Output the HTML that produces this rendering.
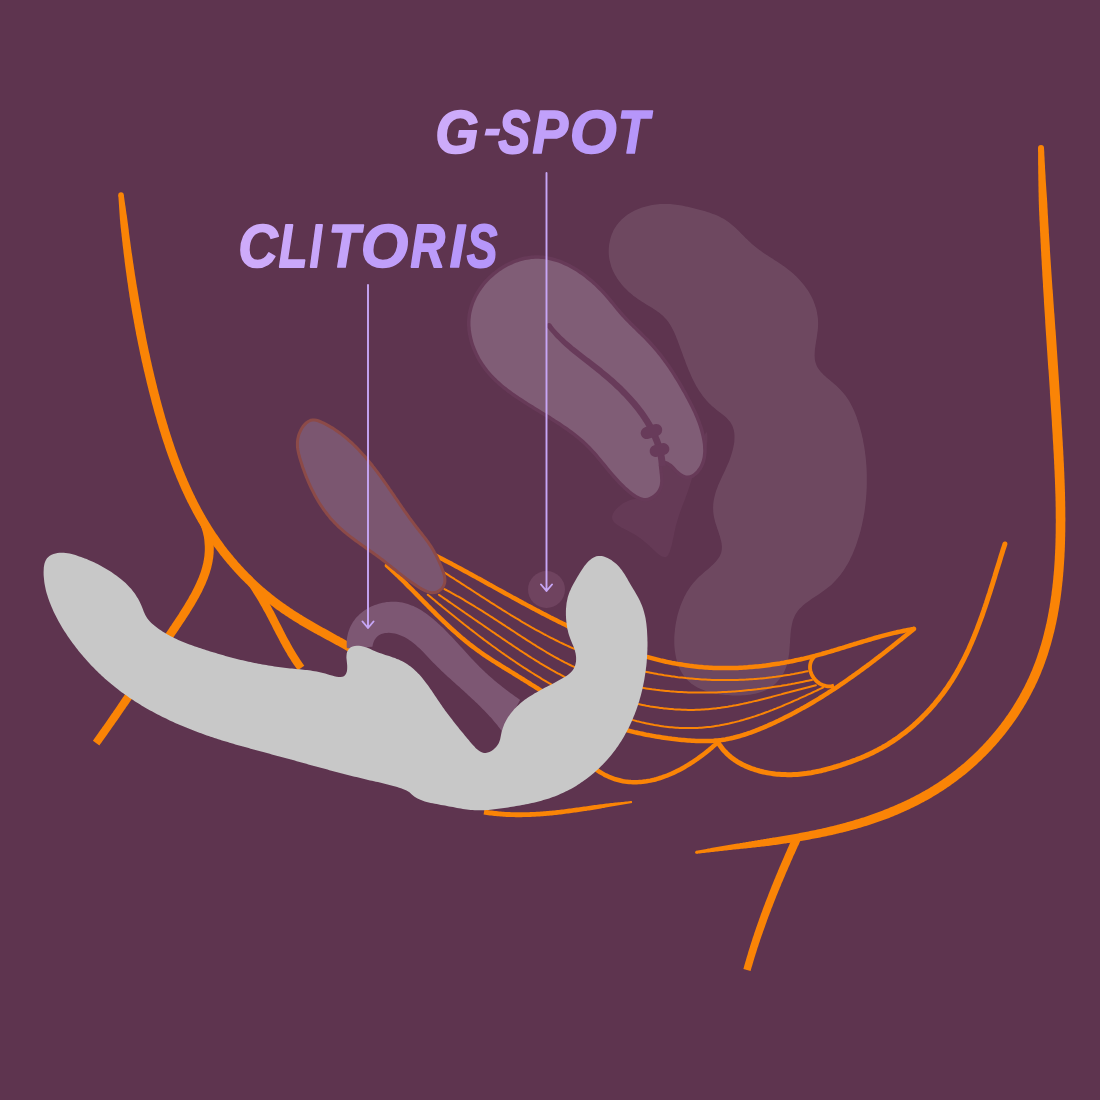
<!DOCTYPE html>
<html><head><meta charset="utf-8"><style>
html,body{margin:0;padding:0;background:#5e344f;width:1100px;height:1100px;overflow:hidden;font-family:"Liberation Sans",sans-serif;}
svg{display:block}
</style></head><body>
<svg width="1100" height="1100" viewBox="0 0 1100 1100">
<rect width="1100" height="1100" fill="#5e344f"/>
<path d="M612 516.9 612.3 515.5 612.8 514 613.7 512.4 614.7 510.8 616 509.3 617.5 507.8 619.1 506.3 620.9 504.9 622.7 503.6 624.7 502.4 626.8 501.4 628.8 500.5 630.9 499.8 633 499.3 635.1 499 637.2 498.7 639.2 498.5 641.2 498.3 643.2 498.1 645.1 497.8 647 497.3 648.8 496.7 650.6 496 652.2 495 653.8 493.8 655.2 492.5 656.5 491 657.6 489.3 658.6 487.5 659.3 485.5 659.9 483.3 660.2 481 660.4 478.6 660.5 476.2 660.6 473.9 660.6 471.6 660.7 469.4 660.9 467.4 661.1 465.7 661.6 464.2 662.2 463 663.1 462.2 664.3 461.9 665.7 461.9 667.3 462.3 669 462.9 670.7 463.8 672.5 465 674.2 466.3 676 467.7 677.7 469.1 679.4 470.6 681.1 472 682.8 473.2 684.5 474.3 686.2 475.2 687.9 475.7 689.6 476 691.3 475.9 692.9 475.6 694.4 474.9 695.9 474 697.3 472.8 698.6 471.3 699.8 469.5 700.9 467.6 701.9 465.5 702.8 463.2 703.6 460.8 704.4 458.3 705 455.8 705.6 453.2 706.1 450.7 706.5 448.2 706.8 445.7 707.1 443.4 707.3 441.2 707.4 439.2 707.4 437.3 707.4 435.7 707.3 434.4 707.2 433.3 707 432.6 706.7 432.2 706.4 432.2 706 432.6 705.6 433.2 705.1 434.1 704.6 435.4 704 436.8 703.5 438.5 702.8 440.4 702.2 442.5 701.5 444.7 700.9 447.1 700.2 449.5 699.5 452.1 698.7 454.7 698 457.3 697.3 460 696.6 462.6 695.9 465.2 695.2 467.8 694.5 470.2 693.8 472.6 693.1 474.9 692.5 477 691.8 479.1 691.2 481.2 690.6 483.1 690 485 689.4 486.8 688.8 488.6 688.2 490.4 687.6 492.1 687 493.8 686.4 495.4 685.8 497.1 685.2 498.7 684.5 500.4 683.9 502 683.3 503.7 682.6 505.3 682 507 681.4 508.8 680.7 510.5 680.1 512.3 679.4 514.1 678.8 516 678.2 517.9 677.6 519.9 677 521.9 676.4 524 675.8 526.2 675.3 528.4 674.8 530.7 674.3 533 673.8 535.5 673.3 537.9 672.8 540.3 672.3 542.6 671.8 544.9 671.2 547.1 670.6 549.1 670 551 669.4 552.7 668.6 554.2 667.9 555.4 667 556.3 666.1 556.9 665.1 557.2 664 557.1 662.8 556.8 661.5 556.2 660.2 555.4 658.8 554.4 657.3 553.2 655.7 551.8 654.1 550.3 652.4 548.7 650.6 547 648.7 545.3 646.8 543.6 644.9 541.9 642.8 540.2 640.7 538.6 638.5 537.1 636.3 535.6 634.1 534.3 631.8 533 629.6 531.8 627.4 530.6 625.3 529.5 623.3 528.4 621.3 527.4 619.5 526.3 617.8 525.2 616.3 524.2 615 523.1 613.9 522 613.1 520.8 612.4 519.6 612.1 518.3 612 516.9Z" fill="#653a56"/>
<path d="M662.1 204 660.1 204.1 658.1 204.2 656 204.4 654 204.7 652 205 650 205.4 648 205.9 646 206.4 644.1 206.9 642.1 207.5 640.2 208.2 638.3 209 636.5 209.8 634.7 210.6 632.9 211.5 631.1 212.5 629.4 213.5 627.7 214.6 626.1 215.8 624.6 217 623.1 218.2 621.6 219.6 620.3 221 618.9 222.4 617.7 223.9 616.5 225.5 615.4 227.2 614.4 228.8 613.4 230.6 612.6 232.4 611.8 234.3 611.1 236.2 610.5 238.2 610 240.2 609.6 242.2 609.2 244.2 609 246.3 608.8 248.3 608.7 250.4 608.7 252.4 608.8 254.4 609 256.4 609.3 258.4 609.6 260.3 610.1 262.3 610.6 264.1 611.1 266 611.8 267.9 612.5 269.7 613.3 271.4 614.2 273.2 615.1 274.9 616.1 276.6 617.1 278.3 618.3 280 619.4 281.6 620.6 283.1 621.9 284.7 623.2 286.2 624.6 287.7 626 289.1 627.4 290.6 628.9 291.9 630.5 293.3 632 294.6 633.6 295.9 635.2 297.1 636.9 298.3 638.6 299.5 640.3 300.6 642 301.7 643.8 302.8 645.5 303.9 647.2 304.9 649 306 650.7 307.1 652.4 308.1 654.1 309.2 655.8 310.3 657.4 311.4 659 312.6 660.5 313.8 662 315 663.4 316.3 664.7 317.7 666 319.1 667.2 320.6 668.4 322.1 669.5 323.7 670.5 325.3 671.5 327 672.4 328.8 673.3 330.5 674.2 332.3 675 334.2 675.8 336 676.5 337.9 677.3 339.8 678 341.7 678.7 343.6 679.4 345.5 680.1 347.4 680.8 349.3 681.5 351.2 682.2 353.1 682.9 355 683.6 356.9 684.3 358.8 685 360.6 685.7 362.5 686.4 364.4 687.1 366.3 687.9 368.1 688.6 370 689.4 371.8 690.2 373.6 691 375.4 691.8 377.2 692.6 379 693.5 380.7 694.4 382.5 695.3 384.2 696.2 385.9 697.2 387.6 698.2 389.3 699.3 390.9 700.4 392.5 701.5 394.1 702.6 395.7 703.8 397.3 705.1 398.8 706.3 400.3 707.7 401.7 709 403.2 710.5 404.6 711.9 406 713.5 407.3 715 408.6 716.7 409.9 718.3 411.2 720 412.4 721.6 413.7 723.2 415 724.8 416.3 726.2 417.6 727.6 419 728.9 420.4 730.1 421.8 731.1 423.4 732 425 732.7 426.7 733.3 428.4 733.8 430.2 734.2 432.1 734.4 433.9 734.5 435.9 734.5 437.8 734.4 439.8 734.3 441.9 734 443.9 733.6 446 733.2 448 732.7 450.1 732.1 452.2 731.5 454.3 730.9 456.3 730.1 458.4 729.4 460.4 728.6 462.4 727.7 464.4 726.9 466.3 726 468.3 725.2 470.2 724.3 472.1 723.4 473.9 722.5 475.8 721.6 477.7 720.8 479.5 719.9 481.4 719.1 483.2 718.3 485 717.6 486.9 716.9 488.7 716.2 490.6 715.6 492.5 715.1 494.4 714.6 496.3 714.2 498.2 713.8 500.1 713.5 502.1 713.3 504 713.2 506 713.1 508 713.2 509.9 713.3 511.9 713.5 513.9 713.8 515.9 714.2 518 714.7 520 715.2 522 715.8 524 716.5 526 717.1 528 717.8 530.1 718.5 532 719.1 534 719.8 536 720.3 537.9 720.8 539.9 721.3 541.7 721.6 543.6 721.8 545.5 721.9 547.3 721.8 549 721.6 550.8 721.3 552.5 720.7 554.1 720 555.7 719.1 557.3 718.1 558.8 716.9 560.3 715.7 561.8 714.3 563.2 712.8 564.7 711.3 566.1 709.8 567.5 708.2 568.9 706.6 570.2 705 571.6 703.4 573 701.8 574.4 700.3 575.8 698.8 577.1 697.4 578.5 696 580 694.7 581.4 693.5 582.8 692.3 584.3 691.1 585.8 690 587.3 688.9 588.9 687.9 590.4 686.9 592.1 686 593.7 685.1 595.4 684.2 597.1 683.4 598.9 682.6 600.7 681.8 602.5 681 604.4 680.3 606.3 679.7 608.2 679 610.2 678.4 612.2 677.8 614.3 677.3 616.3 676.8 618.4 676.4 620.5 676 622.6 675.6 624.7 675.3 626.9 675 629 674.8 631.2 674.6 633.3 674.4 635.5 674.3 637.6 674.3 639.7 674.3 641.9 674.3 644 674.4 646.1 674.6 648.2 674.8 650.2 675.1 652.3 675.4 654.3 675.8 656.3 676.2 658.3 676.7 660.2 677.2 662.1 677.8 664 678.5 665.8 679.2 667.6 680 669.3 680.9 671 681.8 672.7 682.8 674.2 683.8 675.8 684.9 677.2 686.1 678.7 687.4 680 688.7 681.3 690.1 682.5 691.5 683.7 693 684.7 694.6 685.8 696.2 686.7 697.9 687.7 699.7 688.5 701.4 689.3 703.3 690 705.1 690.7 707 691.4 709 692 711 692.5 713 693 715 693.4 717.1 693.8 719.1 694.2 721.2 694.5 723.4 694.7 725.5 694.9 727.6 695.1 729.8 695.3 731.9 695.4 734.1 695.4 736.2 695.5 738.4 695.5 740.5 695.4 742.7 695.3 744.8 695.2 746.9 695 749 694.8 751.1 694.5 753.1 694.1 755.1 693.7 757.1 693.3 759 692.7 760.9 692.1 762.8 691.5 764.6 690.7 766.4 689.9 768.1 689 769.8 688 771.4 686.9 772.9 685.7 774.4 684.5 775.8 683.2 777.2 681.8 778.5 680.3 779.7 678.8 780.9 677.2 782 675.6 783 673.9 783.9 672.2 784.8 670.4 785.6 668.5 786.3 666.7 786.9 664.7 787.4 662.8 787.9 660.8 788.3 658.8 788.6 656.8 788.9 654.8 789.2 652.7 789.4 650.7 789.5 648.6 789.7 646.5 789.8 644.5 790 642.4 790.1 640.3 790.2 638.3 790.4 636.2 790.5 634.2 790.7 632.2 790.9 630.2 791.2 628.3 791.5 626.4 791.9 624.5 792.3 622.7 792.8 620.8 793.4 619.1 794.1 617.4 794.8 615.7 795.7 614.1 796.7 612.6 797.7 611.1 798.9 609.6 800.1 608.3 801.5 606.9 802.9 605.6 804.4 604.3 805.9 603.1 807.5 601.9 809.2 600.7 810.8 599.5 812.5 598.3 814.3 597.2 816 596 817.8 594.9 819.5 593.7 821.3 592.5 823 591.3 824.7 590.1 826.4 588.8 828 587.5 829.6 586.2 831.2 584.9 832.7 583.5 834.1 582.1 835.5 580.6 836.9 579.1 838.2 577.6 839.5 576 840.7 574.4 841.9 572.8 843.1 571.2 844.2 569.5 845.3 567.8 846.3 566.1 847.3 564.4 848.3 562.7 849.3 560.9 850.2 559.1 851 557.3 851.9 555.5 852.7 553.7 853.5 551.8 854.2 549.9 855 548.1 855.7 546.2 856.4 544.3 857 542.4 857.6 540.5 858.2 538.6 858.8 536.7 859.4 534.8 859.9 532.9 860.5 531 861 529 861.4 527.1 861.9 525.2 862.3 523.2 862.7 521.3 863.1 519.3 863.5 517.4 863.8 515.4 864.2 513.5 864.5 511.5 864.8 509.6 865 507.6 865.3 505.6 865.5 503.6 865.7 501.7 865.9 499.7 866.1 497.7 866.2 495.7 866.4 493.7 866.5 491.7 866.6 489.8 866.7 487.8 866.7 485.8 866.8 483.8 866.8 481.8 866.8 479.8 866.8 477.8 866.8 475.8 866.7 473.8 866.7 471.8 866.6 469.8 866.5 467.8 866.4 465.8 866.2 463.8 866.1 461.8 865.9 459.8 865.7 457.8 865.5 455.8 865.2 453.9 865 451.9 864.7 449.9 864.4 447.9 864.1 446 863.7 444 863.3 442 863 440.1 862.6 438.1 862.1 436.2 861.7 434.3 861.2 432.3 860.7 430.4 860.2 428.5 859.6 426.6 859.1 424.7 858.5 422.8 857.9 420.9 857.2 419 856.6 417.1 855.9 415.3 855.2 413.4 854.4 411.6 853.6 409.8 852.8 408 851.9 406.2 851 404.5 850.1 402.7 849.1 401 848 399.3 846.9 397.7 845.8 396 844.5 394.4 843.3 392.9 842 391.4 840.6 389.9 839.1 388.4 837.6 387 836.1 385.6 834.5 384.2 832.9 382.8 831.3 381.5 829.7 380.1 828.1 378.8 826.5 377.5 825 376.1 823.5 374.7 822.2 373.3 820.9 371.9 819.7 370.5 818.6 369 817.6 367.4 816.8 365.9 816.1 364.2 815.5 362.5 815.1 360.8 814.8 359 814.7 357.1 814.6 355.2 814.7 353.3 814.8 351.3 814.9 349.3 815.2 347.3 815.5 345.3 815.8 343.2 816.1 341.1 816.5 339 816.8 336.9 817.1 334.8 817.4 332.7 817.7 330.6 817.9 328.6 818 326.5 818.1 324.4 818.1 322.4 818 320.3 817.9 318.3 817.6 316.3 817.3 314.4 817 312.4 816.6 310.5 816.1 308.5 815.5 306.7 814.9 304.8 814.2 302.9 813.5 301.1 812.7 299.3 811.9 297.5 811 295.8 810 294 809 292.3 808 290.6 806.9 289 805.7 287.4 804.5 285.8 803.3 284.2 802 282.7 800.7 281.2 799.4 279.7 798 278.2 796.6 276.8 795.2 275.4 793.7 274.1 792.2 272.8 790.7 271.5 789.1 270.2 787.5 269 785.9 267.8 784.3 266.6 782.7 265.5 781 264.3 779.4 263.2 777.7 262.1 776 261 774.3 259.9 772.7 258.8 771 257.8 769.3 256.7 767.6 255.6 765.9 254.5 764.3 253.4 762.6 252.2 761 251.1 759.4 249.9 757.8 248.7 756.2 247.5 754.7 246.3 753.1 245 751.6 243.7 750.2 242.3 748.7 240.9 747.3 239.6 745.8 238.2 744.4 236.7 743 235.3 741.6 233.9 740.2 232.5 738.8 231.1 737.4 229.7 735.9 228.3 734.5 227 733 225.7 731.5 224.4 730 223.2 728.5 222 726.9 220.9 725.2 219.8 723.6 218.8 721.9 217.9 720.1 217 718.3 216.1 716.5 215.3 714.7 214.6 712.8 213.9 711 213.2 709.1 212.5 707.2 211.9 705.2 211.3 703.3 210.8 701.4 210.2 699.4 209.7 697.4 209.2 695.5 208.7 693.5 208.2 691.6 207.7 689.6 207.3 687.7 206.8 685.7 206.4 683.8 206 681.8 205.6 679.9 205.3 677.9 205 676 204.7 674 204.5 672 204.3 670 204.1 668.1 204 666.1 203.9 664.1 203.9 662.1 204Z" fill="#ffffff" fill-opacity="0.10"/>
<path d="M537 258.8 538.9 258.8 540.8 258.9 542.8 259.1 544.7 259.3 546.6 259.6 548.5 260 550.5 260.4 552.4 260.9 554.3 261.4 556.2 262 558 262.6 559.9 263.3 561.8 264.1 563.6 264.9 565.4 265.7 567.3 266.6 569.1 267.5 570.9 268.5 572.7 269.5 574.4 270.6 576.2 271.6 577.9 272.8 579.6 273.9 581.3 275.1 583 276.3 584.7 277.6 586.3 278.9 587.9 280.2 589.5 281.5 591.1 282.8 592.6 284.2 594.2 285.6 595.7 287 597.1 288.4 598.6 289.9 600 291.3 601.4 292.8 602.8 294.2 604.1 295.7 605.4 297.2 606.7 298.7 608 300.2 609.2 301.7 610.4 303.2 611.6 304.6 612.8 306.1 614 307.6 615.2 309.1 616.4 310.6 617.7 312 618.9 313.5 620.2 315 621.5 316.4 622.8 317.8 624.1 319.3 625.5 320.7 626.9 322.1 628.3 323.5 629.7 324.9 631.1 326.3 632.5 327.7 634 329.1 635.4 330.5 636.9 332 638.3 333.4 639.8 334.8 641.2 336.2 642.6 337.6 644.1 339.1 645.5 340.5 646.9 342 648.3 343.5 649.7 345 651.1 346.5 652.4 348 653.7 349.5 655 351.1 656.3 352.6 657.6 354.2 658.9 355.8 660.1 357.3 661.3 358.9 662.5 360.6 663.7 362.2 664.9 363.8 666.1 365.5 667.2 367.1 668.4 368.8 669.5 370.4 670.6 372.1 671.7 373.8 672.8 375.5 673.8 377.2 674.9 378.9 675.9 380.6 677 382.3 678 384 679 385.7 680 387.4 681 389.2 681.9 390.9 682.9 392.6 683.9 394.3 684.8 396.1 685.7 397.8 686.7 399.6 687.6 401.3 688.5 403 689.4 404.8 690.3 406.5 691.2 408.3 692 410.1 692.9 411.8 693.7 413.6 694.5 415.4 695.3 417.2 696 419 696.8 420.9 697.5 422.7 698.1 424.6 698.8 426.5 699.4 428.4 700 430.4 700.5 432.4 701 434.4 701.5 436.4 701.9 438.4 702.3 440.5 702.6 442.5 702.9 444.6 703 446.7 703.1 448.7 703.2 450.7 703.1 452.8 702.9 454.7 702.7 456.7 702.3 458.6 701.8 460.5 701.2 462.3 700.5 464.1 699.6 465.9 698.7 467.5 697.5 469.1 696.3 470.7 694.9 472.1 693.3 473.4 691.6 474.5 689.8 475.3 687.9 475.6 686 475.4 684 474.8 682.1 473.8 680.3 472.5 678.6 471.1 677.1 469.7 675.8 468.2 674.5 466.8 673.2 465.4 671.6 464.1 669.9 462.9 668 461.8 666 461 664 460.6 662.1 460.6 660.5 461.1 659.5 462.2 659 463.9 658.9 465.8 659 468.1 659.3 470.3 659.5 472.6 659.8 474.8 660 476.9 660.1 479 660.2 480.9 660 482.9 659.8 484.7 659.3 486.5 658.6 488.3 657.7 490 656.5 491.7 655 493.3 653.3 494.8 651.4 496.1 649.5 497 647.6 497.7 645.7 497.9 643.9 497.9 642.1 497.5 640.3 496.9 638.5 496.1 636.8 495.2 635.1 494.1 633.5 492.9 631.9 491.7 630.3 490.4 628.7 489.1 627.2 487.8 625.7 486.4 624.3 485 622.8 483.6 621.4 482.2 620 480.8 618.7 479.3 617.3 477.8 616 476.3 614.6 474.8 613.3 473.3 612 471.8 610.7 470.2 609.5 468.7 608.2 467.2 606.9 465.6 605.7 464.1 604.4 462.5 603.1 461 601.9 459.4 600.6 457.9 599.3 456.4 598 454.8 596.7 453.3 595.4 451.8 594.1 450.4 592.7 448.9 591.4 447.5 590 446.1 588.6 444.7 587.2 443.3 585.8 441.9 584.3 440.6 582.8 439.3 581.3 438 579.8 436.7 578.3 435.5 576.7 434.2 575.2 433 573.6 431.8 572 430.6 570.4 429.4 568.8 428.3 567.2 427.1 565.5 426 563.9 424.9 562.2 423.7 560.6 422.6 558.9 421.5 557.2 420.4 555.5 419.4 553.8 418.3 552.1 417.2 550.4 416.1 548.7 415.1 547 414 545.3 413 543.6 411.9 541.9 410.9 540.1 409.8 538.4 408.8 536.7 407.7 535 406.7 533.3 405.6 531.5 404.5 529.8 403.5 528.1 402.4 526.4 401.3 524.7 400.2 523 399.1 521.4 398.1 519.7 396.9 518 395.8 516.4 394.7 514.7 393.6 513.1 392.4 511.5 391.2 509.9 390.1 508.3 388.9 506.7 387.6 505.2 386.4 503.6 385.2 502.1 383.9 500.6 382.6 499.2 381.3 497.7 379.9 496.3 378.6 494.9 377.2 493.5 375.8 492.2 374.4 490.9 372.9 489.6 371.4 488.3 369.9 487.1 368.3 485.9 366.8 484.7 365.1 483.6 363.5 482.5 361.8 481.4 360.1 480.4 358.4 479.4 356.6 478.5 354.8 477.6 352.9 476.8 351.1 476 349.2 475.2 347.3 474.5 345.4 473.8 343.4 473.2 341.5 472.7 339.5 472.2 337.5 471.8 335.5 471.4 333.5 471.1 331.5 470.8 329.5 470.7 327.5 470.5 325.5 470.5 323.5 470.5 321.5 470.6 319.5 470.8 317.5 471 315.6 471.3 313.6 471.7 311.7 472.2 309.7 472.7 307.8 473.3 305.9 473.9 304.1 474.6 302.2 475.4 300.4 476.3 298.6 477.1 296.8 478.1 295 479.1 293.3 480.2 291.6 481.3 289.9 482.5 288.3 483.7 286.7 484.9 285.1 486.2 283.5 487.6 282 489 280.6 490.4 279.1 491.9 277.7 493.4 276.4 495 275 496.6 273.8 498.2 272.5 499.8 271.3 501.5 270.2 503.2 269.1 505 268 506.7 267 508.5 266.1 510.3 265.2 512.1 264.4 514 263.6 515.8 262.8 517.7 262.2 519.6 261.5 521.5 261 523.4 260.5 525.3 260 527.3 259.7 529.2 259.4 531.1 259.1 533.1 258.9 535 258.8 537 258.8Z" fill="none" stroke="#673a58" stroke-width="7" stroke-linejoin="round"/>
<path d="M537 258.8 538.9 258.8 540.8 258.9 542.8 259.1 544.7 259.3 546.6 259.6 548.5 260 550.5 260.4 552.4 260.9 554.3 261.4 556.2 262 558 262.6 559.9 263.3 561.8 264.1 563.6 264.9 565.4 265.7 567.3 266.6 569.1 267.5 570.9 268.5 572.7 269.5 574.4 270.6 576.2 271.6 577.9 272.8 579.6 273.9 581.3 275.1 583 276.3 584.7 277.6 586.3 278.9 587.9 280.2 589.5 281.5 591.1 282.8 592.6 284.2 594.2 285.6 595.7 287 597.1 288.4 598.6 289.9 600 291.3 601.4 292.8 602.8 294.2 604.1 295.7 605.4 297.2 606.7 298.7 608 300.2 609.2 301.7 610.4 303.2 611.6 304.6 612.8 306.1 614 307.6 615.2 309.1 616.4 310.6 617.7 312 618.9 313.5 620.2 315 621.5 316.4 622.8 317.8 624.1 319.3 625.5 320.7 626.9 322.1 628.3 323.5 629.7 324.9 631.1 326.3 632.5 327.7 634 329.1 635.4 330.5 636.9 332 638.3 333.4 639.8 334.8 641.2 336.2 642.6 337.6 644.1 339.1 645.5 340.5 646.9 342 648.3 343.5 649.7 345 651.1 346.5 652.4 348 653.7 349.5 655 351.1 656.3 352.6 657.6 354.2 658.9 355.8 660.1 357.3 661.3 358.9 662.5 360.6 663.7 362.2 664.9 363.8 666.1 365.5 667.2 367.1 668.4 368.8 669.5 370.4 670.6 372.1 671.7 373.8 672.8 375.5 673.8 377.2 674.9 378.9 675.9 380.6 677 382.3 678 384 679 385.7 680 387.4 681 389.2 681.9 390.9 682.9 392.6 683.9 394.3 684.8 396.1 685.7 397.8 686.7 399.6 687.6 401.3 688.5 403 689.4 404.8 690.3 406.5 691.2 408.3 692 410.1 692.9 411.8 693.7 413.6 694.5 415.4 695.3 417.2 696 419 696.8 420.9 697.5 422.7 698.1 424.6 698.8 426.5 699.4 428.4 700 430.4 700.5 432.4 701 434.4 701.5 436.4 701.9 438.4 702.3 440.5 702.6 442.5 702.9 444.6 703 446.7 703.1 448.7 703.2 450.7 703.1 452.8 702.9 454.7 702.7 456.7 702.3 458.6 701.8 460.5 701.2 462.3 700.5 464.1 699.6 465.9 698.7 467.5 697.5 469.1 696.3 470.7 694.9 472.1 693.3 473.4 691.6 474.5 689.8 475.3 687.9 475.6 686 475.4 684 474.8 682.1 473.8 680.3 472.5 678.6 471.1 677.1 469.7 675.8 468.2 674.5 466.8 673.2 465.4 671.6 464.1 669.9 462.9 668 461.8 666 461 664 460.6 662.1 460.6 660.5 461.1 659.5 462.2 659 463.9 658.9 465.8 659 468.1 659.3 470.3 659.5 472.6 659.8 474.8 660 476.9 660.1 479 660.2 480.9 660 482.9 659.8 484.7 659.3 486.5 658.6 488.3 657.7 490 656.5 491.7 655 493.3 653.3 494.8 651.4 496.1 649.5 497 647.6 497.7 645.7 497.9 643.9 497.9 642.1 497.5 640.3 496.9 638.5 496.1 636.8 495.2 635.1 494.1 633.5 492.9 631.9 491.7 630.3 490.4 628.7 489.1 627.2 487.8 625.7 486.4 624.3 485 622.8 483.6 621.4 482.2 620 480.8 618.7 479.3 617.3 477.8 616 476.3 614.6 474.8 613.3 473.3 612 471.8 610.7 470.2 609.5 468.7 608.2 467.2 606.9 465.6 605.7 464.1 604.4 462.5 603.1 461 601.9 459.4 600.6 457.9 599.3 456.4 598 454.8 596.7 453.3 595.4 451.8 594.1 450.4 592.7 448.9 591.4 447.5 590 446.1 588.6 444.7 587.2 443.3 585.8 441.9 584.3 440.6 582.8 439.3 581.3 438 579.8 436.7 578.3 435.5 576.7 434.2 575.2 433 573.6 431.8 572 430.6 570.4 429.4 568.8 428.3 567.2 427.1 565.5 426 563.9 424.9 562.2 423.7 560.6 422.6 558.9 421.5 557.2 420.4 555.5 419.4 553.8 418.3 552.1 417.2 550.4 416.1 548.7 415.1 547 414 545.3 413 543.6 411.9 541.9 410.9 540.1 409.8 538.4 408.8 536.7 407.7 535 406.7 533.3 405.6 531.5 404.5 529.8 403.5 528.1 402.4 526.4 401.3 524.7 400.2 523 399.1 521.4 398.1 519.7 396.9 518 395.8 516.4 394.7 514.7 393.6 513.1 392.4 511.5 391.2 509.9 390.1 508.3 388.9 506.7 387.6 505.2 386.4 503.6 385.2 502.1 383.9 500.6 382.6 499.2 381.3 497.7 379.9 496.3 378.6 494.9 377.2 493.5 375.8 492.2 374.4 490.9 372.9 489.6 371.4 488.3 369.9 487.1 368.3 485.9 366.8 484.7 365.1 483.6 363.5 482.5 361.8 481.4 360.1 480.4 358.4 479.4 356.6 478.5 354.8 477.6 352.9 476.8 351.1 476 349.2 475.2 347.3 474.5 345.4 473.8 343.4 473.2 341.5 472.7 339.5 472.2 337.5 471.8 335.5 471.4 333.5 471.1 331.5 470.8 329.5 470.7 327.5 470.5 325.5 470.5 323.5 470.5 321.5 470.6 319.5 470.8 317.5 471 315.6 471.3 313.6 471.7 311.7 472.2 309.7 472.7 307.8 473.3 305.9 473.9 304.1 474.6 302.2 475.4 300.4 476.3 298.6 477.1 296.8 478.1 295 479.1 293.3 480.2 291.6 481.3 289.9 482.5 288.3 483.7 286.7 484.9 285.1 486.2 283.5 487.6 282 489 280.6 490.4 279.1 491.9 277.7 493.4 276.4 495 275 496.6 273.8 498.2 272.5 499.8 271.3 501.5 270.2 503.2 269.1 505 268 506.7 267 508.5 266.1 510.3 265.2 512.1 264.4 514 263.6 515.8 262.8 517.7 262.2 519.6 261.5 521.5 261 523.4 260.5 525.3 260 527.3 259.7 529.2 259.4 531.1 259.1 533.1 258.9 535 258.8 537 258.8Z" fill="#805d76"/>
<path d="M547 327.1 548.2 328.7 549.5 330.4 550.8 332 552.2 333.6 553.5 335.1 554.9 336.7 556.3 338.2 557.8 339.6 559.2 341.1 560.7 342.5 562.2 343.9 563.6 345.3 565.2 346.7 566.7 348 568.2 349.3 569.7 350.7 571.3 352 572.8 353.2 574.4 354.5 576 355.8 577.6 357.1 579.1 358.3 580.7 359.6 582.3 360.8 583.9 362 585.5 363.3 587.1 364.5 588.7 365.8 590.2 367 591.8 368.3 593.4 369.5 595 370.8 596.5 372 598.1 373.3 599.7 374.6 601.2 375.9 602.8 377.2 604.3 378.5 605.8 379.8 607.3 381.1 608.9 382.4 610.4 383.8 611.8 385.1 613.3 386.5 614.8 387.9 616.2 389.3 617.7 390.6 619.1 392 620.5 393.5 621.9 394.9 623.3 396.3 624.7 397.8 626 399.2 627.4 400.7 628.7 402.2 630 403.7 631.3 405.2 632.5 406.7 633.8 408.2 635 409.8 636.2 411.3 637.4 412.9 638.5 414.5 639.7 416.1 640.8 417.7 641.9 419.3 642.9 421 644 422.6 645 424.3 646 426 647 427.7 647.9 429.4 648.8 431.1 649.7 432.9 650.5 434.6 651.3 436.4 652.1 438.2 652.8 439.9 653.5 441.7 654.2 443.6 654.8 445.4 655.4 447.2 655.9 449.1 656.4 450.9 656.9 452.8 657.3 454.7 657.7 456.6 658 458.5 658.3 460.4 658.5 462.4 658.7 464.3 658.8 466.3 665.8 465.8 665.7 463.7 665.4 461.6 665.2 459.5 664.9 457.4 664.5 455.3 664.1 453.3 663.6 451.2 663.1 449.2 662.5 447.2 661.9 445.2 661.3 443.2 660.6 441.3 659.9 439.3 659.1 437.4 658.3 435.5 657.5 433.6 656.6 431.7 655.7 429.9 654.8 428 653.8 426.2 652.8 424.4 651.7 422.6 650.7 420.9 649.6 419.1 648.5 417.4 647.4 415.7 646.2 414 645 412.3 643.8 410.6 642.6 409 641.4 407.4 640.1 405.8 638.8 404.2 637.5 402.6 636.2 401 634.8 399.5 633.5 397.9 632.1 396.4 630.7 394.9 629.3 393.4 627.9 391.9 626.5 390.4 625 389 623.5 387.5 622.1 386.1 620.6 384.7 619.1 383.3 617.6 381.9 616 380.5 614.5 379.1 613 377.8 611.4 376.4 609.8 375.1 608.3 373.8 606.7 372.5 605.1 371.2 603.5 369.9 602 368.6 600.4 367.3 598.8 366 597.1 364.8 595.5 363.5 593.9 362.3 592.3 361 590.7 359.8 589.1 358.6 587.5 357.4 585.9 356.2 584.3 354.9 582.7 353.7 581.1 352.5 579.5 351.3 578 350.1 576.4 348.8 574.8 347.6 573.3 346.4 571.8 345.1 570.3 343.8 568.8 342.6 567.3 341.3 565.8 339.9 564.4 338.6 562.9 337.3 561.5 335.9 560.1 334.5 558.7 333.1 557.4 331.7 556.1 330.2 554.7 328.7 553.5 327.2 552.2 325.6 550.9 324Z" fill="#683b5a"/>
<circle cx="549" cy="325.5" r="2.5" fill="#683b5a"/>
<rect x="640.5" y="425.5" width="22" height="12" rx="6" transform="rotate(-18 651.5 431.5)" fill="#683b5a"/>
<rect x="649.5" y="444" width="20" height="12" rx="6" transform="rotate(-14 659.5 450)" fill="#683b5a"/>
<circle cx="546.5" cy="589.5" r="18.5" fill="#6f435f"/>
<path d="M118.3 195.2 118.4 196.7 118.5 198.2 118.6 199.8 118.7 201.3 118.8 202.8 118.9 204.3 119 205.8 119.1 207.3 119.2 208.8 119.3 210.3 119.4 211.8 119.5 213.3 119.6 214.8 119.7 216.3 119.8 217.8 119.9 219.3 120.1 220.8 120.2 222.3 120.3 223.8 120.5 225.3 120.6 226.8 120.8 228.3 121 229.8 121.1 231.3 121.3 232.8 121.5 234.3 121.6 235.8 121.8 237.3 122 238.8 122.1 240.3 122.3 241.8 122.5 243.3 122.6 244.8 122.8 246.3 123 247.8 123.2 249.3 123.4 250.8 123.5 252.3 123.7 253.8 123.9 255.3 124.1 256.7 124.3 258.2 124.5 259.7 124.6 261.2 124.8 262.7 125 264.2 125.2 265.7 125.4 267.2 125.6 268.7 125.8 270.2 126 271.7 126.2 273.1 126.4 274.6 126.6 276.1 126.8 277.6 127 279.1 127.2 280.6 127.4 282.1 127.7 283.6 127.9 285 128.1 286.5 128.3 288 128.5 289.5 128.7 291 129 292.5 129.2 294 129.4 295.4 129.6 296.9 129.9 298.4 130.1 299.9 130.3 301.4 130.6 302.9 130.8 304.3 131.1 305.8 131.3 307.3 131.6 308.8 131.8 310.3 132.1 311.7 132.3 313.2 132.6 314.7 132.9 316.2 133.1 317.6 133.4 319.1 133.7 320.6 133.9 322.1 134.2 323.6 134.5 325 134.7 326.5 135 328 135.3 329.5 135.6 330.9 135.9 332.4 136.1 333.9 136.4 335.4 136.7 336.8 137 338.3 137.3 339.8 137.6 341.3 137.9 342.7 138.2 344.2 138.5 345.7 138.8 347.1 139.1 348.6 139.4 350.1 139.7 351.6 140 353 140.3 354.5 140.7 356 141 357.5 141.3 358.9 141.6 360.4 141.9 361.9 142.3 363.3 142.6 364.8 142.9 366.3 143.3 367.7 143.6 369.2 143.9 370.7 144.3 372.1 144.6 373.6 145 375.1 145.3 376.5 145.7 378 146 379.5 146.4 380.9 146.7 382.4 147.1 383.9 147.4 385.3 147.8 386.8 148.2 388.3 148.5 389.7 148.9 391.2 149.3 392.7 149.6 394.1 150 395.6 150.4 397.1 150.8 398.5 151.2 400 151.5 401.5 151.9 402.9 152.3 404.4 152.7 405.8 153.1 407.3 153.5 408.8 153.9 410.2 154.3 411.7 154.7 413.2 155.1 414.6 155.5 416.1 156 417.5 156.4 419 156.8 420.5 157.2 421.9 157.6 423.4 158.1 424.8 158.5 426.3 158.9 427.7 159.4 429.2 159.8 430.7 160.3 432.1 160.7 433.6 161.2 435 161.6 436.5 162.1 437.9 162.6 439.4 163 440.8 163.5 442.2 164 443.7 164.5 445.1 164.9 446.6 165.4 448 165.9 449.5 166.4 450.9 166.9 452.3 167.4 453.8 167.9 455.2 168.4 456.6 168.9 458.1 169.5 459.5 170 460.9 170.5 462.3 171 463.8 171.6 465.2 172.1 466.6 172.7 468 173.2 469.4 173.8 470.9 174.3 472.3 174.9 473.7 175.5 475.1 176 476.5 176.6 477.9 177.2 479.3 177.8 480.7 178.4 482.1 179 483.5 179.6 484.9 180.2 486.3 180.8 487.7 181.4 489 182 490.4 182.7 491.8 183.3 493.2 184 494.5 184.6 495.9 185.2 497.3 185.9 498.7 186.6 500 187.2 501.4 187.9 502.7 188.6 504.1 189.3 505.4 190 506.8 190.6 508.1 191.4 509.5 192.1 510.8 192.8 512.2 193.5 513.5 194.2 514.8 194.9 516.1 195.7 517.5 196.4 518.8 197.2 520.1 197.9 521.4 198.7 522.7 199.5 524 200.2 525.3 201 526.6 201.8 527.9 202.6 529.2 203.4 530.5 204.2 531.8 205 533.1 205.8 534.4 206.7 535.6 207.5 536.9 208.4 538.2 209.2 539.4 210.1 540.7 210.9 541.9 211.8 543.2 212.7 544.4 213.5 545.7 214.4 546.9 215.3 548.1 216.2 549.3 217.1 550.6 218.1 551.8 219 553 219.9 554.2 220.8 555.4 221.8 556.6 222.7 557.8 223.7 559 224.7 560.2 225.6 561.3 226.6 562.5 227.6 563.7 228.6 564.8 229.6 566 230.6 567.2 231.6 568.3 232.6 569.4 233.6 570.6 234.6 571.7 235.6 572.8 236.7 574 237.7 575.1 238.8 576.2 239.8 577.3 240.9 578.4 242 579.5 243 580.6 244.1 581.6 245.2 582.7 246.3 583.8 247.4 584.8 248.5 585.9 249.6 587 250.7 588 251.8 589 252.9 590.1 254.1 591.1 255.2 592.1 256.3 593.1 257.5 594.1 258.6 595.1 259.8 596.1 261 597.1 262.1 598.1 263.3 599.1 264.5 600 265.7 601 266.9 602 268.1 602.9 269.3 603.9 270.5 604.8 271.7 605.7 272.9 606.6 274.1 607.6 275.3 608.5 276.6 609.4 277.8 610.3 279.1 611.1 280.3 612 281.5 612.9 282.8 613.7 284.1 614.6 285.3 615.5 286.6 616.3 287.9 617.1 289.1 618 290.4 618.8 291.7 619.6 293 620.4 294.3 621.2 295.6 622 296.9 622.8 298.2 623.6 299.4 624.4 300.7 625.2 302.1 625.9 303.4 626.7 304.7 627.5 306 628.2 307.3 629 308.6 629.7 309.9 630.5 311.2 631.2 312.6 631.9 313.9 632.7 315.2 633.4 316.5 634.1 317.8 634.9 319.2 635.6 320.5 636.3 321.8 637 323.1 637.8 324.4 638.5 325.8 639.2 327.1 639.9 328.4 640.6 329.7 641.3 331 642.1 332.4 642.8 333.7 643.5 335 644.2 336.3 644.9 337.6 645.6 338.9 646.3 340.2 647.1 341.6 647.8 342.9 648.5 344.2 649.2 345.5 649.9 346.8 650.7 348.1 651.4 352.2 644 350.9 643.2 349.6 642.5 348.3 641.8 347 641 345.7 640.3 344.4 639.5 343.1 638.8 341.8 638.1 340.5 637.4 339.2 636.6 337.8 635.9 336.5 635.2 335.2 634.4 333.9 633.7 332.6 633 331.3 632.3 330 631.5 328.7 630.8 327.4 630.1 326 629.3 324.7 628.6 323.4 627.9 322.1 627.2 320.8 626.4 319.5 625.7 318.2 624.9 316.9 624.2 315.6 623.5 314.3 622.7 313.1 622 311.8 621.2 310.5 620.5 309.2 619.7 307.9 619 306.6 618.2 305.4 617.4 304.1 616.7 302.8 615.9 301.6 615.1 300.3 614.4 299 613.6 297.8 612.8 296.5 612 295.3 611.2 294 610.4 292.8 609.6 291.6 608.8 290.3 608 289.1 607.1 287.9 606.3 286.7 605.5 285.5 604.6 284.3 603.8 283.1 602.9 281.9 602.1 280.7 601.2 279.5 600.3 278.3 599.4 277.1 598.6 276 597.7 274.8 596.8 273.6 595.8 272.5 594.9 271.3 594 270.2 593.1 269 592.1 267.9 591.2 266.8 590.2 265.6 589.3 264.5 588.3 263.4 587.4 262.3 586.4 261.2 585.4 260.1 584.4 259 583.4 257.9 582.4 256.8 581.4 255.8 580.4 254.7 579.4 253.6 578.4 252.6 577.3 251.5 576.3 250.5 575.3 249.4 574.2 248.4 573.2 247.3 572.1 246.3 571.1 245.3 570 244.3 568.9 243.3 567.8 242.3 566.7 241.3 565.7 240.3 564.6 239.3 563.5 238.3 562.4 237.3 561.2 236.4 560.1 235.4 559 234.5 557.9 233.5 556.7 232.6 555.6 231.6 554.5 230.7 553.3 229.8 552.2 228.8 551 227.9 549.9 227 548.7 226.1 547.5 225.2 546.4 224.3 545.2 223.5 544 222.6 542.8 221.7 541.6 220.9 540.4 220 539.2 219.2 538 218.3 536.8 217.5 535.6 216.7 534.4 215.8 533.2 215 531.9 214.2 530.7 213.4 529.5 212.6 528.2 211.8 527 211 525.7 210.3 524.5 209.5 523.2 208.7 522 208 520.7 207.2 519.5 206.5 518.2 205.7 516.9 205 515.6 204.3 514.4 203.5 513.1 202.8 511.8 202.1 510.5 201.4 509.2 200.7 507.9 200 506.6 199.3 505.3 198.6 504 198 502.7 197.3 501.4 196.6 500 196 498.7 195.3 497.4 194.7 496.1 194 494.7 193.4 493.4 192.7 492.1 192.1 490.7 191.5 489.4 190.9 488 190.2 486.7 189.6 485.3 189 484 188.4 482.6 187.8 481.3 187.2 479.9 186.7 478.6 186.1 477.2 185.5 475.8 184.9 474.4 184.4 473.1 183.8 471.7 183.2 470.3 182.7 468.9 182.1 467.6 181.6 466.2 181.1 464.8 180.5 463.4 180 462 179.5 460.6 178.9 459.2 178.4 457.8 177.9 456.4 177.4 455 176.9 453.6 176.4 452.2 175.9 450.8 175.4 449.4 174.9 448 174.4 446.5 173.9 445.1 173.5 443.7 173 442.3 172.5 440.9 172.1 439.4 171.6 438 171.1 436.6 170.7 435.2 170.2 433.7 169.8 432.3 169.3 430.9 168.9 429.4 168.4 428 168 426.6 167.6 425.1 167.1 423.7 166.7 422.3 166.3 420.8 165.9 419.4 165.4 418 165 416.5 164.6 415.1 164.2 413.6 163.8 412.2 163.4 410.7 163 409.3 162.6 407.8 162.2 406.4 161.8 405 161.4 403.5 161 402.1 160.6 400.6 160.2 399.2 159.9 397.7 159.5 396.3 159.1 394.8 158.7 393.4 158.4 391.9 158 390.5 157.6 389 157.2 387.6 156.9 386.1 156.5 384.6 156.2 383.2 155.8 381.7 155.5 380.3 155.1 378.8 154.8 377.4 154.4 375.9 154.1 374.5 153.7 373 153.4 371.6 153 370.1 152.7 368.7 152.4 367.2 152 365.7 151.7 364.3 151.4 362.8 151.1 361.4 150.7 359.9 150.4 358.5 150.1 357 149.8 355.5 149.5 354.1 149.1 352.6 148.8 351.2 148.5 349.7 148.2 348.3 147.9 346.8 147.6 345.3 147.3 343.9 147 342.4 146.7 340.9 146.4 339.5 146.1 338 145.8 336.6 145.6 335.1 145.3 333.6 145 332.2 144.7 330.7 144.4 329.2 144.1 327.8 143.9 326.3 143.6 324.9 143.3 323.4 143 321.9 142.8 320.5 142.5 319 142.2 317.5 142 316.1 141.7 314.6 141.5 313.1 141.2 311.7 140.9 310.2 140.7 308.7 140.4 307.3 140.2 305.8 139.9 304.3 139.7 302.8 139.4 301.4 139.2 299.9 138.9 298.4 138.7 297 138.4 295.5 138.2 294 137.9 292.6 137.7 291.1 137.4 289.6 137.2 288.1 136.9 286.7 136.7 285.2 136.4 283.7 136.2 282.3 136 280.8 135.7 279.3 135.5 277.8 135.3 276.4 135 274.9 134.8 273.4 134.6 271.9 134.4 270.5 134.1 269 133.9 267.5 133.7 266 133.5 264.5 133.2 263.1 133 261.6 132.8 260.1 132.6 258.6 132.4 257.1 132.2 255.7 132 254.2 131.7 252.7 131.5 251.2 131.3 249.7 131.1 248.3 130.9 246.8 130.7 245.3 130.5 243.8 130.3 242.3 130.1 240.8 129.9 239.4 129.7 237.9 129.5 236.4 129.3 234.9 129.1 233.4 128.9 231.9 128.8 230.4 128.6 228.9 128.4 227.5 128.2 226 128 224.5 127.8 223 127.6 221.5 127.4 220 127.2 218.5 127 217 126.8 215.6 126.5 214.1 126.3 212.6 126.1 211.1 125.9 209.6 125.7 208.1 125.5 206.6 125.2 205.1 125 203.6 124.8 202.1 124.6 200.7 124.4 199.2 124.2 197.7 124 196.2 123.8 194.7Z" fill="#fa8406"/>
<circle cx="121.0" cy="194.9" r="2.75" fill="#fa8406"/>
<path d="M198.2 520.1 198.9 521.6 199.6 523.1 200.2 524.5 200.8 526 201.3 527.4 201.8 528.8 202.2 530.2 202.6 531.6 203 533 203.3 534.4 203.6 535.7 203.9 537.1 204.1 538.5 204.3 539.8 204.4 541.2 204.5 542.6 204.6 543.9 204.7 545.2 204.8 546.6 204.8 547.9 204.8 549.3 204.8 550.6 204.7 552 204.6 553.3 204.5 554.6 204.4 556 204.2 557.3 204 558.6 203.8 560 203.5 561.3 203.3 562.7 203 564 202.6 565.3 202.3 566.7 201.9 568 201.5 569.4 201.1 570.7 200.7 572 200.2 573.4 199.7 574.7 199.2 576 198.7 577.4 198.1 578.7 197.6 580 197 581.3 196.4 582.7 195.8 584 195.2 585.3 194.6 586.6 193.9 588 193.2 589.3 192.6 590.6 191.9 591.9 191.2 593.2 190.5 594.5 189.7 595.8 189 597.1 188.3 598.4 187.5 599.7 186.7 601 186 602.3 185.2 603.6 184.4 604.9 183.6 606.2 182.8 607.5 182 608.8 181.2 610.1 180.4 611.3 179.6 612.6 178.8 613.9 177.9 615.2 177.1 616.5 176.2 617.7 175.4 619 174.6 620.3 173.7 621.6 172.9 622.8 172 624.1 171.2 625.4 170.3 626.6 169.4 627.9 168.6 629.2 167.7 630.4 166.9 631.7 166 633 165.2 634.2 164.3 635.5 163.5 636.8 162.6 638 161.8 639.3 160.9 640.5 160.1 641.8 159.3 643 158.4 644.3 157.6 645.6 156.7 646.8 155.9 648.1 155.1 649.3 154.2 650.6 153.4 651.8 152.6 653.1 151.7 654.3 150.9 655.6 150.1 656.8 149.2 658.1 148.4 659.3 147.6 660.5 146.7 661.8 145.9 663 145.1 664.3 144.3 665.5 143.4 666.7 142.6 668 141.8 669.2 141 670.5 140.1 671.7 139.3 672.9 138.5 674.2 137.7 675.4 136.8 676.7 136 677.9 135.2 679.1 134.4 680.4 133.6 681.6 132.7 682.8 131.9 684.1 131.1 685.3 130.3 686.5 129.4 687.8 128.6 689 127.8 690.2 126.9 691.4 126.1 692.7 125.3 693.9 124.5 695.1 123.6 696.4 122.8 697.6 122 698.8 121.1 700.1 120.3 701.3 119.5 702.5 118.6 703.8 117.8 705 117 706.2 116.1 707.4 115.3 708.7 114.4 709.9 113.6 711.1 112.8 712.4 111.9 713.6 111.1 714.8 110.2 716 109.4 717.3 108.5 718.5 107.7 719.7 106.8 721 106 722.2 105.1 723.4 104.2 724.7 103.4 725.9 102.5 727.1 101.6 728.4 100.8 729.6 99.9 730.8 99 732.1 98.2 733.3 97.3 734.5 96.4 735.8 95.5 737 94.6 738.2 93.8 739.5 92.9 740.7 99.4 745.4 100.3 744.1 101.2 742.9 102 741.7 102.9 740.4 103.8 739.2 104.7 738 105.6 736.7 106.5 735.5 107.4 734.2 108.2 733 109.1 731.8 110 730.5 110.9 729.3 111.7 728.1 112.6 726.8 113.5 725.6 114.3 724.4 115.2 723.1 116 721.9 116.9 720.7 117.8 719.4 118.6 718.2 119.5 717 120.3 715.8 121.2 714.5 122 713.3 122.9 712.1 123.7 710.8 124.6 709.6 125.4 708.4 126.2 707.1 127.1 705.9 127.9 704.7 128.8 703.5 129.6 702.2 130.4 701 131.3 699.8 132.1 698.5 133 697.3 133.8 696.1 134.6 694.8 135.5 693.6 136.3 692.4 137.1 691.1 138 689.9 138.8 688.7 139.6 687.5 140.5 686.2 141.3 685 142.1 683.8 142.9 682.5 143.8 681.3 144.6 680.1 145.4 678.8 146.3 677.6 147.1 676.4 147.9 675.1 148.8 673.9 149.6 672.6 150.4 671.4 151.2 670.2 152.1 668.9 152.9 667.7 153.7 666.5 154.6 665.2 155.4 664 156.2 662.7 157.1 661.5 157.9 660.3 158.7 659 159.6 657.8 160.4 656.5 161.3 655.3 162.1 654 162.9 652.8 163.8 651.5 164.6 650.3 165.5 649 166.3 647.8 167.2 646.5 168 645.3 168.8 644 169.7 642.8 170.6 641.5 171.4 640.3 172.3 639 173.1 637.8 174 636.5 174.8 635.2 175.7 634 176.6 632.7 177.4 631.4 178.3 630.2 179.1 628.9 180 627.6 180.9 626.4 181.7 625.1 182.6 623.8 183.4 622.5 184.3 621.2 185.2 619.9 186 618.6 186.9 617.3 187.7 616 188.5 614.7 189.4 613.4 190.2 612.1 191 610.8 191.8 609.5 192.7 608.1 193.5 606.8 194.3 605.5 195 604.2 195.8 602.8 196.6 601.5 197.4 600.1 198.1 598.8 198.9 597.4 199.6 596 200.3 594.7 201.1 593.3 201.8 591.9 202.5 590.5 203.1 589.1 203.8 587.7 204.4 586.3 205.1 584.9 205.7 583.5 206.3 582.1 206.9 580.6 207.5 579.2 208 577.8 208.5 576.3 209 574.9 209.5 573.4 210 572 210.4 570.5 210.9 569 211.3 567.5 211.6 566.1 212 564.6 212.3 563.1 212.6 561.6 212.8 560.1 213.1 558.5 213.3 557 213.4 555.5 213.6 554 213.7 552.4 213.7 550.9 213.8 549.4 213.8 547.8 213.7 546.3 213.7 544.7 213.6 543.1 213.4 541.6 213.1 540 212.8 538.5 212.5 536.9 212.2 535.4 211.7 533.8 211.3 532.2 210.8 530.7 210.3 529.1 209.7 527.6 209 526 208.4 524.5 207.7 522.9 206.9 521.4 206.1 519.9 205.2 518.4 204.4 516.9Z" fill="#fa8406"/>
<path d="M244.3 579.1 245.2 580.4 246.1 581.6 246.9 582.8 247.7 584 248.5 585.3 249.4 586.5 250.1 587.7 250.9 589 251.7 590.3 252.5 591.5 253.2 592.8 254 594 254.8 595.3 255.6 596.5 256.4 597.8 257.2 599 257.9 600.3 258.7 601.6 259.5 602.9 260.2 604.2 260.9 605.5 261.7 606.8 262.4 608.1 263.1 609.4 263.8 610.7 264.6 612 265.3 613.3 266 614.6 266.7 616 267.4 617.3 268.1 618.6 268.8 620 269.5 621.3 270.2 622.7 270.9 624 271.6 625.3 272.3 626.7 272.9 628 273.6 629.4 274.3 630.7 275 632.1 275.7 633.4 276.4 634.8 277.1 636.1 277.9 637.5 278.6 638.8 279.3 640.2 280 641.5 280.7 642.9 281.5 644.2 282.2 645.6 282.9 646.9 283.7 648.2 284.4 649.6 285.2 650.9 286 652.2 286.8 653.6 287.5 654.9 288.3 656.2 289.1 657.5 290 658.8 290.8 660.1 291.6 661.4 292.5 662.7 293.3 664 294.2 665.3 295.1 666.6 296 667.8 296.9 669.1 297.8 670.3 304.3 665.7 303.4 664.4 302.5 663.2 301.7 662 300.8 660.8 300 659.6 299.2 658.3 298.4 657.1 297.6 655.8 296.8 654.6 296 653.3 295.3 652 294.5 650.7 293.8 649.5 293 648.2 292.3 646.9 291.5 645.6 290.8 644.3 290.1 643 289.4 641.6 288.6 640.3 287.9 639 287.2 637.7 286.5 636.4 285.8 635 285.1 633.7 284.4 632.3 283.7 631 283.1 629.7 282.4 628.3 281.7 627 281 625.6 280.3 624.3 279.6 622.9 278.9 621.6 278.2 620.2 277.6 618.9 276.9 617.5 276.2 616.2 275.5 614.8 274.8 613.4 274.1 612.1 273.4 610.7 272.6 609.4 271.9 608 271.2 606.7 270.5 605.3 269.7 604 269 602.7 268.3 601.3 267.5 600 266.8 598.7 266 597.3 265.2 596 264.4 594.7 263.6 593.4 262.8 592.1 262 590.7 261.2 589.4 260.4 588.1 259.5 586.9 258.6 585.6 257.6 584.4 256.7 583.2 255.7 581.9 254.8 580.7 253.8 579.5 252.8 578.3 251.8 577.1 250.8 576 249.8 574.8Z" fill="#fa8406"/>
<path d="M1038 148.1 1038 149.6 1038 151.1 1038.1 152.6 1038.1 154.1 1038.1 155.6 1038.1 157.1 1038.1 158.6 1038.1 160.1 1038.1 161.6 1038.1 163.1 1038.1 164.6 1038.2 166.1 1038.2 167.6 1038.2 169.1 1038.2 170.6 1038.2 172.1 1038.2 173.6 1038.3 175.1 1038.3 176.6 1038.3 178.2 1038.3 179.7 1038.4 181.2 1038.4 182.7 1038.4 184.2 1038.4 185.7 1038.5 187.2 1038.5 188.7 1038.5 190.2 1038.5 191.7 1038.6 193.2 1038.6 194.7 1038.6 196.2 1038.7 197.7 1038.7 199.2 1038.7 200.7 1038.8 202.2 1038.8 203.7 1038.9 205.2 1038.9 206.7 1039 208.2 1039 209.7 1039.1 211.2 1039.2 212.7 1039.2 214.2 1039.3 215.7 1039.4 217.2 1039.4 218.7 1039.5 220.2 1039.6 221.7 1039.7 223.2 1039.7 224.7 1039.8 226.2 1039.9 227.8 1039.9 229.3 1040 230.8 1040.1 232.3 1040.2 233.8 1040.2 235.3 1040.3 236.8 1040.4 238.3 1040.5 239.8 1040.5 241.3 1040.6 242.8 1040.7 244.3 1040.8 245.8 1040.8 247.3 1040.9 248.8 1041 250.3 1041.1 251.8 1041.2 253.3 1041.2 254.8 1041.3 256.3 1041.4 257.8 1041.5 259.3 1041.6 260.8 1041.7 262.3 1041.7 263.8 1041.8 265.3 1041.9 266.8 1042 268.3 1042.1 269.8 1042.2 271.3 1042.3 272.8 1042.3 274.3 1042.4 275.8 1042.5 277.3 1042.6 278.8 1042.7 280.3 1042.8 281.8 1042.9 283.3 1043 284.8 1043 286.3 1043.1 287.8 1043.2 289.3 1043.3 290.8 1043.4 292.3 1043.5 293.8 1043.6 295.3 1043.7 296.8 1043.8 298.3 1043.9 299.8 1043.9 301.3 1044 302.8 1044.1 304.3 1044.2 305.8 1044.3 307.3 1044.4 308.8 1044.5 310.3 1044.6 311.8 1044.7 313.3 1044.8 314.8 1044.9 316.3 1045 317.8 1045.1 319.3 1045.2 320.8 1045.2 322.3 1045.3 323.8 1045.4 325.3 1045.5 326.8 1045.6 328.3 1045.7 329.8 1045.8 331.3 1045.9 332.8 1046 334.3 1046.1 335.8 1046.2 337.3 1046.3 338.8 1046.4 340.3 1046.5 341.7 1046.6 343.2 1046.7 344.7 1046.8 346.2 1046.9 347.7 1047 349.2 1047.1 350.7 1047.2 352.2 1047.3 353.7 1047.4 355.2 1047.5 356.7 1047.6 358.2 1047.7 359.7 1047.8 361.2 1047.9 362.7 1048 364.2 1048.1 365.7 1048.2 367.2 1048.3 368.7 1048.5 370.2 1048.6 371.7 1048.7 373.2 1048.8 374.7 1048.9 376.2 1049 377.7 1049.1 379.2 1049.2 380.7 1049.3 382.2 1049.4 383.7 1049.5 385.2 1049.6 386.7 1049.7 388.2 1049.8 389.7 1049.9 391.1 1049.9 392.6 1050 394.1 1050.1 395.6 1050.2 397.1 1050.3 398.6 1050.4 400.1 1050.5 401.6 1050.6 403.1 1050.7 404.6 1050.8 406.1 1050.9 407.6 1051 409.1 1051.1 410.6 1051.2 412.1 1051.3 413.6 1051.4 415.1 1051.5 416.6 1051.6 418.1 1051.7 419.6 1051.8 421.1 1051.9 422.6 1051.9 424.1 1052 425.6 1052.1 427 1052.2 428.5 1052.3 430 1052.4 431.5 1052.5 433 1052.6 434.5 1052.7 436 1052.7 437.5 1052.8 439 1052.9 440.5 1053 442 1053.1 443.5 1053.2 445 1053.3 446.5 1053.3 448 1053.4 449.5 1053.5 451 1053.6 452.5 1053.7 453.9 1053.8 455.4 1053.8 456.9 1053.9 458.4 1054 459.9 1054.1 461.4 1054.1 462.9 1054.2 464.4 1054.3 465.9 1054.3 467.4 1054.4 468.9 1054.5 470.4 1054.6 471.9 1054.6 473.4 1054.7 474.9 1054.7 476.3 1054.8 477.8 1054.9 479.3 1054.9 480.8 1055 482.3 1055 483.8 1055.1 485.3 1055.1 486.8 1055.2 488.3 1055.2 489.8 1055.3 491.3 1055.3 492.8 1055.4 494.3 1055.4 495.7 1055.5 497.2 1055.5 498.7 1055.5 500.2 1055.6 501.7 1055.6 503.2 1055.6 504.7 1055.6 506.2 1055.7 507.7 1055.7 509.2 1055.7 510.7 1055.7 512.2 1055.7 513.7 1055.7 515.2 1055.7 516.6 1055.7 518.1 1055.8 519.6 1055.8 521.1 1055.8 522.6 1055.7 524.1 1055.7 525.6 1055.7 527.1 1055.7 528.6 1055.7 530.1 1055.7 531.6 1055.7 533.1 1055.6 534.6 1055.6 536.1 1055.6 537.6 1055.5 539.1 1055.5 540.5 1055.5 542 1055.4 543.5 1055.4 545 1055.3 546.5 1055.3 548 1055.2 549.5 1055.1 551 1055.1 552.5 1055 554 1054.9 555.5 1054.8 557 1054.8 558.5 1054.7 560 1054.6 561.4 1054.5 562.9 1054.4 564.4 1054.3 565.9 1054.2 567.4 1054.1 568.9 1054 570.4 1053.8 571.9 1053.7 573.4 1053.6 574.8 1053.4 576.3 1053.3 577.8 1053.2 579.3 1053 580.8 1052.9 582.3 1052.7 583.7 1052.5 585.2 1052.4 586.7 1052.2 588.2 1052 589.7 1051.8 591.1 1051.6 592.6 1051.5 594.1 1051.3 595.6 1051 597.1 1050.8 598.5 1050.6 600 1050.4 601.5 1050.2 602.9 1049.9 604.4 1049.7 605.9 1049.5 607.4 1049.2 608.8 1048.9 610.3 1048.7 611.7 1048.4 613.2 1048.1 614.7 1047.9 616.1 1047.6 617.6 1047.3 619 1047 620.5 1046.7 622 1046.4 623.4 1046 624.8 1045.7 626.3 1045.4 627.7 1045 629.2 1044.7 630.6 1044.3 632.1 1044 633.5 1043.6 634.9 1043.2 636.4 1042.9 637.8 1042.5 639.2 1042.1 640.6 1041.7 642.1 1041.3 643.5 1040.9 644.9 1040.4 646.3 1040 647.7 1039.6 649.1 1039.1 650.5 1038.7 651.9 1038.2 653.3 1037.7 654.7 1037.3 656.1 1036.8 657.5 1036.3 658.9 1035.8 660.3 1035.3 661.7 1034.8 663 1034.2 664.4 1033.7 665.8 1033.2 667.1 1032.6 668.5 1032.1 669.9 1031.5 671.2 1030.9 672.6 1030.3 673.9 1029.8 675.2 1029.2 676.6 1028.6 677.9 1027.9 679.2 1027.3 680.6 1026.7 681.9 1026 683.2 1025.4 684.5 1024.7 685.9 1024.1 687.2 1023.4 688.5 1022.7 689.8 1022 691.1 1021.3 692.4 1020.6 693.6 1019.9 694.9 1019.2 696.2 1018.5 697.5 1017.7 698.8 1017 700 1016.2 701.3 1015.5 702.5 1014.7 703.8 1013.9 705 1013.2 706.3 1012.4 707.5 1011.6 708.8 1010.8 710 1010 711.2 1009.1 712.4 1008.3 713.7 1007.5 714.9 1006.6 716.1 1005.8 717.3 1004.9 718.5 1004.1 719.7 1003.2 720.9 1002.3 722 1001.4 723.2 1000.6 724.4 999.7 725.6 998.7 726.7 997.8 727.9 996.9 729 996 730.2 995.1 731.3 994.1 732.5 993.2 733.6 992.2 734.7 991.3 735.8 990.3 736.9 989.3 738.1 988.4 739.2 987.4 740.3 986.4 741.3 985.4 742.4 984.4 743.5 983.4 744.6 982.4 745.7 981.3 746.7 980.3 747.8 979.3 748.8 978.2 749.9 977.2 750.9 976.1 751.9 975.1 753 974 754 973 755 971.9 756 970.8 757 969.7 758 968.6 759 967.5 760 966.4 761 965.3 761.9 964.2 762.9 963.1 763.9 961.9 764.8 960.8 765.8 959.7 766.7 958.5 767.6 957.4 768.5 956.2 769.5 955.1 770.4 953.9 771.3 952.7 772.2 951.6 773.1 950.4 774 949.2 774.8 948 775.7 946.8 776.6 945.6 777.4 944.4 778.3 943.2 779.1 942 779.9 940.8 780.8 939.6 781.6 938.3 782.4 937.1 783.2 935.9 784 934.6 784.8 933.4 785.6 932.1 786.4 930.9 787.1 929.6 787.9 928.3 788.7 927.1 789.4 925.8 790.1 924.5 790.9 923.2 791.6 922 792.3 920.7 793 919.4 793.7 918.1 794.4 916.8 795.1 915.5 795.8 914.1 796.5 912.8 797.2 911.5 797.8 910.2 798.5 908.9 799.2 907.5 799.8 906.2 800.4 904.9 801.1 903.5 801.7 902.2 802.3 900.8 802.9 899.5 803.5 898.1 804.1 896.8 804.7 895.4 805.3 894 805.9 892.7 806.5 891.3 807.1 889.9 807.6 888.6 808.2 887.2 808.7 885.8 809.3 884.4 809.8 883 810.4 881.6 810.9 880.2 811.4 878.8 811.9 877.4 812.4 876 813 874.6 813.5 873.2 814 871.8 814.5 870.4 815 869 815.5 867.6 815.9 866.2 816.4 864.8 816.9 863.4 817.4 861.9 817.8 860.5 818.3 859.1 818.7 857.7 819.2 856.2 819.6 854.8 820 853.4 820.5 852 820.9 850.5 821.3 849.1 821.7 847.6 822.1 846.2 822.5 844.8 822.9 843.3 823.3 841.9 823.7 840.4 824.1 839 824.5 837.5 824.8 836.1 825.2 834.7 825.6 833.2 825.9 831.8 826.3 830.3 826.6 828.8 827 827.4 827.3 825.9 827.7 824.5 828 823 828.3 821.6 828.7 820.1 829 818.6 829.3 817.2 829.6 815.7 829.9 814.3 830.2 812.8 830.5 811.3 830.8 809.9 831.1 808.4 831.4 806.9 831.7 805.5 832 804 832.3 802.5 832.6 801 832.8 799.6 833.1 798.1 833.4 796.6 833.7 795.2 833.9 793.7 834.2 792.2 834.5 790.7 834.7 789.2 835 787.8 835.2 786.3 835.5 784.8 835.7 783.3 836 781.9 836.2 780.4 836.5 778.9 836.7 777.4 836.9 775.9 837.2 774.5 837.4 773 837.6 771.5 837.9 770 838.1 768.5 838.4 767.1 838.6 765.6 838.9 764.1 839.1 762.6 839.4 761.2 839.6 759.7 839.9 758.2 840.1 756.7 840.4 755.2 840.6 753.8 840.9 752.3 841.1 750.8 841.4 749.3 841.6 747.8 841.9 746.4 842.1 744.9 842.4 743.4 842.6 741.9 842.9 740.4 843.1 739 843.4 737.5 843.6 736 843.8 734.5 844.1 733.1 844.3 731.6 844.6 730.1 844.8 728.6 845.1 727.2 845.3 725.7 845.6 724.2 845.8 722.7 846.1 721.3 846.3 719.8 846.6 718.3 846.8 716.8 847.1 715.4 847.3 713.9 847.6 712.4 847.8 711 848.1 709.5 848.4 708 848.6 706.6 848.9 705.1 849.2 703.6 849.4 702.2 849.7 700.7 850 699.2 850.3 697.8 850.6 696.3 850.8 696.8 853.8 698.3 853.6 699.7 853.4 701.2 853.3 702.7 853.1 704.2 852.9 705.6 852.8 707.1 852.6 708.6 852.4 710.1 852.3 711.5 852.1 713 851.9 714.5 851.8 716 851.6 717.5 851.4 718.9 851.3 720.4 851.1 721.9 850.9 723.4 850.8 724.9 850.6 726.4 850.4 727.8 850.3 729.3 850.1 730.8 850 732.3 849.8 733.8 849.6 735.3 849.5 736.8 849.3 738.3 849.2 739.7 849 741.2 848.8 742.7 848.7 744.2 848.5 745.7 848.4 747.2 848.2 748.7 848 750.2 847.9 751.7 847.7 753.2 847.5 754.7 847.4 756.2 847.2 757.6 847.1 759.1 846.9 760.6 846.7 762.1 846.6 763.6 846.4 765.1 846.2 766.6 846 768.1 845.9 769.6 845.7 771.1 845.5 772.6 845.3 774.1 845.1 775.6 844.9 777.1 844.7 778.6 844.5 780.1 844.2 781.6 844 783.1 843.8 784.5 843.6 786 843.4 787.5 843.1 789 842.9 790.5 842.7 792 842.4 793.5 842.2 795 841.9 796.5 841.7 798 841.5 799.5 841.2 801 841 802.5 840.7 803.9 840.4 805.4 840.2 806.9 839.9 808.4 839.7 809.9 839.4 811.4 839.1 812.9 838.8 814.4 838.5 815.9 838.3 817.4 838 818.8 837.7 820.3 837.4 821.8 837.1 823.3 836.8 824.8 836.5 826.3 836.2 827.8 835.8 829.2 835.5 830.7 835.2 832.2 834.9 833.7 834.5 835.2 834.2 836.7 833.8 838.1 833.5 839.6 833.1 841.1 832.8 842.6 832.4 844 832.1 845.5 831.7 847 831.3 848.5 830.9 849.9 830.5 851.4 830.1 852.9 829.7 854.4 829.3 855.8 828.9 857.3 828.5 858.8 828.1 860.2 827.7 861.7 827.2 863.2 826.8 864.6 826.3 866.1 825.9 867.5 825.4 869 825 870.5 824.5 871.9 824 873.4 823.6 874.8 823.1 876.2 822.6 877.7 822.1 879.1 821.6 880.6 821.1 882 820.6 883.4 820 884.9 819.5 886.3 819 887.7 818.4 889.2 817.9 890.6 817.3 892 816.7 893.4 816.2 894.8 815.6 896.2 815 897.6 814.4 899 813.8 900.4 813.2 901.8 812.6 903.2 812 904.6 811.3 906 810.7 907.4 810.1 908.8 809.4 910.2 808.8 911.5 808.1 912.9 807.5 914.3 806.8 915.7 806.1 917 805.4 918.4 804.7 919.7 804 921.1 803.3 922.4 802.6 923.8 801.9 925.1 801.1 926.4 800.4 927.8 799.7 929.1 798.9 930.4 798.2 931.7 797.4 933.1 796.6 934.4 795.8 935.7 795 937 794.3 938.3 793.4 939.6 792.6 940.9 791.8 942.1 791 943.4 790.2 944.7 789.3 946 788.5 947.2 787.6 948.5 786.7 949.7 785.9 951 785 952.2 784.1 953.5 783.2 954.7 782.3 955.9 781.4 957.2 780.5 958.4 779.6 959.6 778.6 960.8 777.7 962 776.8 963.2 775.8 964.4 774.9 965.6 773.9 966.8 772.9 967.9 771.9 969.1 771 970.3 770 971.4 769 972.6 768 973.7 766.9 974.8 765.9 976 764.9 977.1 763.9 978.2 762.8 979.3 761.8 980.5 760.7 981.6 759.7 982.7 758.6 983.7 757.5 984.8 756.5 985.9 755.4 987 754.3 988.1 753.2 989.1 752.1 990.2 751 991.2 749.9 992.3 748.8 993.3 747.6 994.3 746.5 995.3 745.4 996.4 744.2 997.4 743.1 998.4 741.9 999.4 740.8 1000.3 739.6 1001.3 738.4 1002.3 737.3 1003.3 736.1 1004.2 734.9 1005.2 733.7 1006.1 732.5 1007.1 731.3 1008 730.1 1008.9 728.9 1009.8 727.6 1010.7 726.4 1011.6 725.2 1012.5 724 1013.4 722.7 1014.3 721.5 1015.2 720.2 1016.1 719 1016.9 717.7 1017.8 716.4 1018.6 715.2 1019.4 713.9 1020.3 712.6 1021.1 711.3 1021.9 710 1022.7 708.7 1023.5 707.4 1024.3 706.1 1025.1 704.8 1025.9 703.5 1026.6 702.2 1027.4 700.8 1028.1 699.5 1028.9 698.2 1029.6 696.8 1030.3 695.5 1031 694.2 1031.7 692.8 1032.4 691.5 1033.1 690.1 1033.8 688.7 1034.5 687.4 1035.2 686 1035.8 684.6 1036.5 683.2 1037.1 681.9 1037.8 680.5 1038.4 679.1 1039 677.7 1039.6 676.3 1040.2 674.9 1040.8 673.5 1041.4 672.1 1041.9 670.6 1042.5 669.2 1043.1 667.8 1043.6 666.4 1044.1 664.9 1044.7 663.5 1045.2 662.1 1045.7 660.6 1046.2 659.2 1046.7 657.8 1047.2 656.3 1047.7 654.9 1048.1 653.4 1048.6 652 1049 650.5 1049.5 649.1 1049.9 647.6 1050.4 646.1 1050.8 644.7 1051.2 643.2 1051.6 641.7 1052 640.3 1052.4 638.8 1052.8 637.3 1053.2 635.8 1053.5 634.3 1053.9 632.9 1054.3 631.4 1054.6 629.9 1055 628.4 1055.3 626.9 1055.6 625.4 1056 623.9 1056.3 622.4 1056.6 620.9 1056.9 619.4 1057.2 618 1057.5 616.5 1057.8 615 1058 613.5 1058.3 611.9 1058.6 610.4 1058.8 608.9 1059.1 607.4 1059.3 605.9 1059.6 604.4 1059.8 602.9 1060 601.4 1060.3 599.9 1060.5 598.4 1060.7 596.9 1060.9 595.4 1061.1 593.9 1061.3 592.3 1061.5 590.8 1061.7 589.3 1061.8 587.8 1062 586.3 1062.2 584.8 1062.3 583.3 1062.5 581.8 1062.7 580.2 1062.8 578.7 1062.9 577.2 1063.1 575.7 1063.2 574.2 1063.3 572.7 1063.5 571.1 1063.6 569.6 1063.7 568.1 1063.8 566.6 1063.9 565.1 1064 563.6 1064.1 562 1064.2 560.5 1064.3 559 1064.4 557.5 1064.5 556 1064.5 554.5 1064.6 552.9 1064.7 551.4 1064.8 549.9 1064.8 548.4 1064.9 546.9 1064.9 545.4 1065 543.8 1065 542.3 1065.1 540.8 1065.1 539.3 1065.1 537.8 1065.2 536.3 1065.2 534.8 1065.2 533.2 1065.3 531.7 1065.3 530.2 1065.3 528.7 1065.3 527.2 1065.3 525.7 1065.3 524.2 1065.3 522.7 1065.4 521.1 1065.4 519.6 1065.4 518.1 1065.3 516.6 1065.3 515.1 1065.3 513.6 1065.3 512.1 1065.3 510.6 1065.3 509.1 1065.3 507.6 1065.2 506 1065.2 504.5 1065.2 503 1065.2 501.5 1065.1 500 1065.1 498.5 1065.1 497 1065 495.5 1065 494 1065 492.5 1064.9 491 1064.9 489.5 1064.8 488 1064.8 486.5 1064.7 485 1064.7 483.5 1064.6 482 1064.6 480.5 1064.5 479 1064.4 477.5 1064.4 476 1064.3 474.4 1064.3 472.9 1064.2 471.4 1064.1 469.9 1064.1 468.4 1064 466.9 1063.9 465.4 1063.9 463.9 1063.8 462.4 1063.7 460.9 1063.6 459.4 1063.6 457.9 1063.5 456.4 1063.4 454.9 1063.3 453.4 1063.3 451.9 1063.2 450.4 1063.1 448.9 1063 447.4 1062.9 445.9 1062.8 444.4 1062.8 442.9 1062.7 441.4 1062.6 439.9 1062.5 438.5 1062.4 437 1062.3 435.5 1062.2 434 1062.2 432.5 1062.1 431 1062 429.5 1061.9 428 1061.8 426.5 1061.7 425 1061.6 423.5 1061.5 422 1061.5 420.5 1061.4 419 1061.3 417.5 1061.2 416 1061.1 414.5 1061 413 1060.9 411.5 1060.8 410 1060.7 408.5 1060.6 407 1060.5 405.5 1060.4 404 1060.3 402.5 1060.2 401 1060.1 399.5 1060.1 398 1060 396.5 1059.9 395 1059.8 393.5 1059.7 392 1059.6 390.5 1059.5 389 1059.4 387.5 1059.3 386 1059.2 384.5 1059.1 383 1059 381.5 1058.9 380 1058.8 378.5 1058.7 377 1058.6 375.5 1058.5 374 1058.4 372.5 1058.3 371 1058.2 369.5 1058.1 368 1058 366.5 1057.9 365 1057.8 363.6 1057.7 362.1 1057.6 360.6 1057.5 359.1 1057.4 357.6 1057.3 356.1 1057.2 354.6 1057.1 353.1 1057 351.6 1056.9 350.1 1056.8 348.6 1056.7 347.1 1056.6 345.6 1056.5 344.1 1056.4 342.6 1056.3 341.1 1056.2 339.6 1056.1 338.1 1056 336.6 1055.9 335.1 1055.8 333.6 1055.7 332.1 1055.6 330.6 1055.4 329.1 1055.3 327.6 1055.2 326.1 1055.1 324.6 1055 323.1 1054.9 321.6 1054.8 320.1 1054.7 318.6 1054.6 317.1 1054.5 315.6 1054.4 314.1 1054.2 312.6 1054.1 311.1 1054 309.6 1053.9 308.1 1053.8 306.6 1053.7 305.1 1053.6 303.7 1053.5 302.2 1053.4 300.7 1053.3 299.2 1053.2 297.7 1053.1 296.2 1053 294.7 1052.9 293.2 1052.8 291.7 1052.7 290.2 1052.5 288.7 1052.4 287.2 1052.3 285.7 1052.2 284.2 1052.1 282.7 1052 281.2 1051.9 279.7 1051.8 278.2 1051.7 276.7 1051.6 275.2 1051.5 273.7 1051.4 272.2 1051.3 270.7 1051.2 269.2 1051.1 267.7 1051 266.2 1050.9 264.7 1050.8 263.2 1050.7 261.7 1050.6 260.2 1050.5 258.7 1050.4 257.2 1050.3 255.7 1050.2 254.2 1050.1 252.7 1050 251.2 1049.9 249.8 1049.9 248.3 1049.8 246.8 1049.7 245.3 1049.6 243.8 1049.5 242.3 1049.4 240.8 1049.3 239.3 1049.2 237.8 1049.1 236.3 1049 234.8 1048.9 233.3 1048.8 231.8 1048.8 230.3 1048.7 228.8 1048.6 227.3 1048.5 225.8 1048.4 224.3 1048.3 222.8 1048.2 221.3 1048.2 219.8 1048.1 218.3 1048 216.8 1047.9 215.3 1047.8 213.8 1047.7 212.3 1047.7 210.8 1047.6 209.3 1047.5 207.8 1047.4 206.3 1047.4 204.8 1047.3 203.3 1047.2 201.8 1047.1 200.3 1047 198.8 1046.9 197.3 1046.8 195.8 1046.7 194.3 1046.6 192.8 1046.5 191.4 1046.4 189.9 1046.3 188.4 1046.2 186.9 1046.1 185.4 1046 183.9 1045.9 182.4 1045.8 180.9 1045.7 179.4 1045.6 177.9 1045.6 176.4 1045.5 174.9 1045.4 173.4 1045.3 171.9 1045.2 170.4 1045.1 168.9 1045 167.4 1045 165.9 1044.9 164.4 1044.8 162.9 1044.7 161.4 1044.6 159.9 1044.6 158.4 1044.5 156.9 1044.4 155.4 1044.3 153.9 1044.3 152.4 1044.2 150.9 1044.1 149.4 1044 147.9Z" fill="#fa8406"/>
<circle cx="1041.0" cy="148.0" r="3.00" fill="#fa8406"/>
<circle cx="696.6" cy="852.3" r="1.50" fill="#fa8406"/>
<path d="M793.1 836.2 792.5 837.6 791.9 839 791.3 840.4 790.7 841.7 790 843.1 789.4 844.5 788.8 845.9 788.2 847.2 787.6 848.6 787 850 786.4 851.4 785.8 852.8 785.2 854.1 784.6 855.5 784 856.9 783.4 858.3 782.8 859.7 782.2 861.1 781.6 862.4 781 863.8 780.4 865.2 779.8 866.6 779.2 868 778.6 869.4 778 870.8 777.5 872.2 776.9 873.6 776.3 874.9 775.7 876.3 775.2 877.7 774.6 879.1 774 880.5 773.4 881.9 772.9 883.3 772.3 884.7 771.7 886.1 771.2 887.5 770.6 888.9 770.1 890.3 769.5 891.7 769 893.1 768.4 894.5 767.9 895.9 767.3 897.4 766.8 898.8 766.2 900.2 765.7 901.6 765.1 903 764.6 904.4 764.1 905.8 763.5 907.2 763 908.6 762.5 910.1 762 911.5 761.4 912.9 760.9 914.3 760.4 915.7 759.9 917.2 759.4 918.6 758.9 920 758.4 921.4 757.9 922.8 757.4 924.3 756.9 925.7 756.4 927.1 755.9 928.6 755.4 930 754.9 931.4 754.4 932.8 754 934.3 753.5 935.7 753 937.1 752.5 938.6 752.1 940 751.6 941.5 751.1 942.9 750.7 944.3 750.2 945.8 749.8 947.2 749.3 948.7 748.9 950.1 748.4 951.6 748 953 747.6 954.4 747.1 955.9 746.7 957.3 746.3 958.8 745.9 960.3 745.4 961.7 745 963.2 744.6 964.6 744.2 966.1 743.8 967.5 743.4 969 750.6 971 751 969.6 751.4 968.1 751.8 966.7 752.3 965.3 752.7 963.8 753.1 962.4 753.5 961 754 959.5 754.4 958.1 754.8 956.7 755.3 955.2 755.7 953.8 756.2 952.4 756.6 951 757.1 949.5 757.5 948.1 758 946.7 758.5 945.3 758.9 943.8 759.4 942.4 759.9 941 760.3 939.6 760.8 938.2 761.3 936.8 761.8 935.3 762.3 933.9 762.8 932.5 763.3 931.1 763.8 929.7 764.3 928.3 764.8 926.9 765.3 925.5 765.8 924.1 766.3 922.7 766.8 921.3 767.3 919.8 767.8 918.4 768.3 917 768.9 915.6 769.4 914.2 769.9 912.8 770.5 911.4 771 910 771.5 908.6 772.1 907.3 772.6 905.9 773.1 904.5 773.7 903.1 774.2 901.7 774.8 900.3 775.3 898.9 775.9 897.5 776.4 896.1 777 894.7 777.6 893.3 778.1 891.9 778.7 890.6 779.3 889.2 779.8 887.8 780.4 886.4 781 885 781.5 883.6 782.1 882.3 782.7 880.9 783.3 879.5 783.9 878.1 784.5 876.7 785 875.4 785.6 874 786.2 872.6 786.8 871.2 787.4 869.9 788 868.5 788.6 867.1 789.2 865.7 789.8 864.4 790.4 863 791 861.6 791.6 860.2 792.2 858.9 792.8 857.5 793.4 856.1 794 854.8 794.7 853.4 795.3 852 795.9 850.7 796.5 849.3 797.1 847.9 797.7 846.6 798.4 845.2 799 843.9 799.6 842.5 800.2 841.1 800.9 839.8Z" fill="#fa8406"/>
<path d="M1004.9 544 1004.3 545.9 1003.7 547.7 1003.1 549.6 1002.5 551.5 1001.9 553.4 1001.3 555.3 1000.7 557.2 1000.2 559.1 999.6 561 999 562.9 998.4 564.8 997.8 566.7 997.2 568.6 996.6 570.5 996 572.4 995.4 574.3 994.9 576.2 994.3 578.2 993.7 580.1 993.1 582 992.5 583.9 991.9 585.8 991.3 587.7 990.7 589.6 990.1 591.6 989.5 593.5 988.8 595.4 988.2 597.3 987.6 599.2 987 601.1 986.4 603 985.7 604.9 985.1 606.8 984.4 608.7 983.8 610.6 983.1 612.5 982.5 614.4 981.8 616.3 981.1 618.2 980.4 620.1 979.7 622 979 623.9 978.3 625.7 977.6 627.6 976.9 629.5 976.2 631.3 975.4 633.2 974.7 635.1 973.9 636.9 973.2 638.8 972.4 640.6 971.6 642.4 970.8 644.3 970 646.1 969.2 647.9 968.4 649.7 967.5 651.6 966.7 653.4 965.8 655.2 964.9 657 964.1 658.7 963.2 660.5 962.2 662.3 961.3 664 960.4 665.8 959.4 667.6 958.5 669.3 957.5 671 956.5 672.8 955.5 674.5 954.5 676.2 953.4 677.9 952.4 679.6 951.3 681.3 950.2 682.9 949.1 684.6 948 686.3 946.9 687.9 945.7 689.5 944.5 691.2 943.4 692.8 942.2 694.4 940.9 696 939.7 697.6 938.5 699.1 937.2 700.7 935.9 702.2 934.7 703.8 933.4 705.3 932 706.8 930.7 708.3 929.4 709.8 928 711.3 926.6 712.7 925.2 714.2 923.8 715.6 922.4 717 921 718.5 919.5 719.8 918.1 721.2 916.6 722.6 915.1 723.9 913.6 725.3 912.1 726.6 910.6 727.9 909 729.2 907.5 730.4 905.9 731.7 904.3 732.9 902.7 734.1 901.1 735.3 899.5 736.5 897.9 737.7 896.3 738.8 894.6 739.9 892.9 741.1 891.3 742.1 889.6 743.2 887.9 744.3 886.2 745.3 884.5 746.3 882.7 747.3 881 748.3 879.2 749.2 877.5 750.2 875.7 751.1 873.9 752 872.1 752.9 870.3 753.7 868.5 754.6 866.7 755.4 864.8 756.2 863 757 861.2 757.8 859.3 758.5 857.4 759.2 855.6 760 853.7 760.7 851.8 761.4 849.9 762.1 848 762.7 846.1 763.4 844.2 764 842.3 764.6 840.4 765.3 838.5 765.9 836.6 766.5 834.7 767 832.8 767.6 830.8 768.2 828.9 768.7 827 769.2 825 769.7 823.1 770.2 821.1 770.7 819.2 771.1 817.2 771.5 815.2 771.9 813.3 772.3 811.3 772.7 809.3 773 807.4 773.3 805.4 773.6 803.4 773.8 801.4 774 799.4 774.2 797.4 774.4 795.4 774.5 793.4 774.6 791.4 774.7 789.3 774.7 787.3 774.7 785.3 774.6 783.3 774.6 781.3 774.5 779.3 774.3 777.3 774.2 775.3 774 773.3 773.7 771.3 773.4 769.3 773.1 767.3 772.8 765.3 772.4 763.4 772 761.4 771.5 759.5 771 757.5 770.4 755.6 769.9 753.7 769.2 751.8 768.6 750 767.9 748.1 767.1 746.3 766.4 744.5 765.5 742.7 764.7 740.9 763.7 739.2 762.8 737.5 761.8 735.8 760.7 734.2 759.6 732.6 758.4 731 757.2 729.5 756 728 754.6 726.6 753.3 725.2 751.8 723.8 750.4 722.5 748.8 721.3 747.2 720.1 745.6 718.9 743.9 717.8 742.1" fill="none" stroke="#fa8406" stroke-width="5" stroke-linecap="round" stroke-linejoin="round"/>
<path d="M718 742 716.6 743.3 715.2 744.6 713.7 745.9 712.3 747.2 710.8 748.4 709.3 749.7 707.7 751 706.2 752.2 704.6 753.5 703 754.7 701.4 755.9 699.7 757.1 698.1 758.3 696.4 759.5 694.7 760.7 693 761.8 691.3 762.9 689.6 764 687.8 765.1 686 766.2 684.3 767.2 682.5 768.2 680.7 769.2 678.8 770.2 677 771.1 675.2 772 673.3 772.9 671.4 773.7 669.6 774.5 667.7 775.3 665.8 776 663.9 776.7 662 777.4 660.1 778 658.2 778.6 656.2 779.2 654.3 779.7 652.4 780.1 650.4 780.6 648.5 780.9 646.5 781.3 644.6 781.5 642.6 781.8 640.7 781.9 638.7 782.1 636.8 782.2 634.8 782.2 632.9 782.2 630.9 782.1 629 781.9 627 781.7 625.1 781.5 623.1 781.2 621.2 780.8 619.3 780.3 617.3 779.8 615.4 779.3 613.5 778.6 611.6 777.9 609.7 777.2 607.8 776.3 605.9 775.4 604 774.4 602.2 773.4 600.3 772.3 598.5 771.1 596.6 769.8 594.8 768.4 593 767" fill="none" stroke="#fa8406" stroke-width="4.5" stroke-linecap="round" stroke-linejoin="round"/>
<path d="M432 553.7 433.7 554.6 435.5 555.5 437.2 556.4 438.9 557.3 440.7 558.2 442.4 559.1 444.2 560 445.9 560.9 447.6 561.8 449.4 562.7 451.1 563.6 452.9 564.6 454.6 565.5 456.3 566.4 458.1 567.4 459.8 568.3 461.6 569.3 463.3 570.2 465.1 571.2 466.8 572.1 468.6 573.1 470.3 574 472.1 575 473.8 575.9 475.6 576.9 477.3 577.9 479.1 578.8 480.9 579.8 482.6 580.8 484.4 581.7 486.1 582.7 487.9 583.7 489.6 584.7 491.4 585.6 493.2 586.6 494.9 587.6 496.7 588.6 498.5 589.6 500.2 590.5 502 591.5 503.8 592.5 505.5 593.5 507.3 594.4 509.1 595.4 510.9 596.4 512.6 597.4 514.4 598.3 516.2 599.3 518 600.3 519.8 601.2 521.6 602.2 523.3 603.2 525.1 604.1 526.9 605.1 528.7 606.1 530.5 607 532.3 608 534.1 608.9 535.9 609.9 537.7 610.8 539.5 611.8 541.3 612.7 543.1 613.7 544.9 614.6 546.7 615.5 548.5 616.4 550.3 617.4 552.1 618.3 553.9 619.2 555.7 620.1 557.5 621 559.3 621.9 561.2 622.8 563 623.7 564.8 624.6 566.6 625.5 568.4 626.4 570.3 627.2 572.1 628.1 573.9 629 575.8 629.8 577.6 630.7 579.4 631.5 581.3 632.4 583.1 633.2 584.9 634 586.8 634.9 588.6 635.7 590.5 636.5 592.3 637.3 594.2 638.1 596 638.9 597.9 639.6 599.7 640.4 601.6 641.2 603.5 641.9 605.3 642.7 607.2 643.4 609 644.1 610.9 644.9 612.8 645.6 614.7 646.3 616.5 647 618.4 647.7 620.3 648.4 622.2 649 624.1 649.7 625.9 650.3 627.8 651 629.7 651.6 631.6 652.2 633.5 652.9 635.4 653.5 637.3 654.1 639.2 654.6 641.1 655.2 643 655.8 644.9 656.3 646.8 656.9 648.8 657.4 650.7 657.9 652.6 658.4 654.5 658.9 656.4 659.4 658.4 659.9 660.3 660.4 662.2 660.8 664.2 661.2 666.1 661.7 668 662.1 670 662.5 671.9 662.9 673.9 663.2 675.8 663.6 677.8 664 679.7 664.3 681.7 664.6 683.6 664.9 685.6 665.2 687.6 665.5 689.5 665.8 691.5 666 693.5 666.3 695.5 666.5 697.4 666.7 699.4 666.9 701.4 667.1 703.4 667.3 705.4 667.4 707.4 667.5 709.4 667.7 711.4 667.8 713.4 667.9 715.4 667.9 717.4 668 719.4 668.1 721.4 668.1 723.4 668.1 725.5 668.1 727.5 668.1 729.5 668.1 731.5 668.1 733.5 668 735.6 667.9 737.6 667.9 739.6 667.8 741.6 667.7 743.6 667.6 745.7 667.4 747.7 667.3 749.7 667.1 751.7 667 753.8 666.8 755.8 666.6 757.8 666.4 759.8 666.2 761.9 666 763.9 665.7 765.9 665.5 767.9 665.2 769.9 664.9 771.9 664.6 774 664.3 776 664 778 663.7 780 663.4 782 663 784 662.7 786 662.3 788 661.9 790 661.6 792 661.2 794 660.8 795.9 660.3 797.9 659.9 799.9 659.5 801.9 659 803.8 658.6 805.8 658.1 807.8 657.6 809.7 657.2 811.7 656.7 813.6 656.2 815.6 655.7 817.5 655.1 819.4 654.6 821.4 654.1 823.3 653.5 825.2 653 827.2 652.4 829.1 651.9 831 651.3 832.9 650.8 834.8 650.2 836.7 649.6 838.6 649 840.5 648.4 842.4 647.9 844.3 647.3 846.2 646.7 848.1 646.1 850 645.5 851.9 644.9 853.8 644.3 855.7 643.8 857.6 643.2 859.5 642.6 861.5 642 863.4 641.4 865.3 640.9 867.2 640.3 869.1 639.7 871 639.2 872.9 638.6 874.8 638 876.7 637.5 878.6 637 880.6 636.4 882.5 635.9 884.4 635.4 886.4 634.9 888.3 634.4 890.2 633.9 892.2 633.4 894.1 632.9 896.1 632.5 898 632 900 631.6 902 631.2 903.9 630.8 905.9 630.4 907.9 630 909.9 629.6 911.9 629.2 913.9 628.9" fill="none" stroke="#fa8406" stroke-width="4.5" stroke-linecap="round" stroke-linejoin="round"/>
<path d="M387 565.6 388.4 566.9 389.9 568.2 391.4 569.6 392.8 571 394.3 572.3 395.7 573.7 397.1 575.1 398.6 576.4 400 577.8 401.4 579.2 402.9 580.6 404.3 582 405.7 583.4 407.1 584.9 408.5 586.3 409.9 587.7 411.4 589.1 412.8 590.5 414.2 592 415.6 593.4 417 594.8 418.4 596.2 419.8 597.7 421.2 599.1 422.6 600.5 424 602 425.5 603.4 426.9 604.8 428.3 606.3 429.7 607.7 431.1 609.1 432.5 610.5 434 611.9 435.4 613.4 436.8 614.8 438.2 616.2 439.7 617.6 441.1 619 442.6 620.4 444 621.8 445.5 623.1 446.9 624.5 448.4 625.9 449.8 627.3 451.3 628.6 452.8 630 454.3 631.3 455.8 632.6 457.3 633.9 458.8 635.3 460.3 636.6 461.8 637.9 463.3 639.1 464.9 640.4 466.4 641.7 468 642.9 469.5 644.2 471.1 645.4 472.7 646.6 474.3 647.8 475.9 649 477.5 650.2 479.1 651.3 480.7 652.5 482.3 653.6 484 654.8 485.6 655.9 487.3 657 489 658.1 490.6 659.2 492.3 660.3 494 661.4 495.7 662.4 497.4 663.5 499.1 664.5 500.8 665.6 502.5 666.7 504.2 667.7 505.9 668.8 507.6 669.8 509.3 670.8 511 671.9 512.7 672.9 514.4 674 516.1 675 517.8 676.1 519.5 677.1 521.2 678.2 522.9 679.2 524.6 680.3 526.3 681.4 528 682.4 529.7 683.5 531.4 684.6 533.1 685.6 534.8 686.7 536.5 687.8 538.2 688.8 539.9 689.9 541.6 690.9 543.3 692 545 693.1 546.7 694.1 548.4 695.2 550.1 696.2 551.8 697.2 553.5 698.3 555.3 699.3 557 700.3 558.7 701.3 560.4 702.3 562.2 703.3 563.9 704.3 565.6 705.3 567.4 706.2 569.1 707.2 570.9 708.1 572.6 709.1 574.4 710 576.2 710.9 577.9 711.8 579.7 712.7 581.5 713.6 583.3 714.4 585.1 715.3 586.9 716.1 588.8 716.9 590.6 717.7 592.4 718.5 594.3 719.2 596.1 720 598 720.7 599.8 721.4 601.7 722.2 603.6 722.9 605.5 723.5 607.4 724.2 609.2 724.8 611.1 725.5 613.1 726.1 615 726.7 616.9 727.3 618.8 727.9 620.7 728.5 622.7 729 624.6 729.6 626.5 730.1 628.5 730.6 630.4 731.1 632.4 731.6 634.3 732.1 636.3 732.5 638.2 733 640.2 733.4 642.2 733.8 644.1 734.3 646.1 734.7 648.1 735 650.1 735.4 652.1 735.8 654 736.1 656 736.5 658 736.8 660 737.1 662 737.4 664 737.7 666 738 668 738.3 669.9 738.5 671.9 738.8 673.9 739 675.9 739.2 677.9 739.5 679.9 739.7 681.9 739.9 683.9 740 685.9 740.2 687.9 740.4 689.9 740.5 691.9 740.7 693.9 740.8 695.9 740.9 697.8 741 699.8 741 701.8 741.1 703.8 741.1 705.8 741.1 707.8 741.1 709.7 741 711.7 740.9 713.7 740.8 715.6 740.6 717.6 740.5 719.6 740.2 721.5 740 723.5 739.7 725.5 739.4 727.4 739 729.4 738.6 731.3 738.2 733.3 737.8 735.2 737.3 737.1 736.8 739.1 736.3 741 735.7 742.9 735.1 744.8 734.5 746.8 733.9 748.7 733.2 750.6 732.6 752.5 731.9 754.4 731.2 756.3 730.4 758.2 729.7 760 728.9 761.9 728.2 763.8 727.4 765.6 726.6 767.5 725.8 769.4 724.9 771.2 724.1 773.1 723.3 774.9 722.4 776.7 721.5 778.5 720.7 780.4 719.8 782.2 718.9 784 718 785.8 717.1 787.6 716.2 789.4 715.3 791.1 714.4 792.9 713.4 794.7 712.5 796.5 711.5 798.2 710.6 800 709.6 801.7 708.6 803.5 707.7 805.2 706.7 807 705.7 808.7 704.7 810.4 703.7 812.1 702.7 813.8 701.7 815.6 700.6 817.3 699.6 819 698.6 820.7 697.5 822.4 696.5 824.1 695.4 825.7 694.4 827.4 693.3 829.1 692.2 830.8 691.1 832.4 690 834.1 689 835.8 687.9 837.4 686.8 839.1 685.6 840.7 684.5 842.4 683.4 844 682.3 845.7 681.2 847.3 680 848.9 678.9 850.6 677.7 852.2 676.6 853.8 675.4 855.4 674.3 857 673.1 858.7 672 860.3 670.8 861.9 669.6 863.5 668.4 865.1 667.2 866.7 666.1 868.3 664.9 869.9 663.7 871.5 662.5 873.1 661.3 874.7 660.1 876.3 658.8 877.9 657.6 879.4 656.4 881 655.2 882.6 654 884.2 652.7 885.8 651.5 887.3 650.3 888.9 649 890.5 647.8 892.1 646.6 893.6 645.3 895.2 644.1 896.8 642.8 898.3 641.6 899.9 640.3 901.5 639.1 903 637.8 904.6 636.5 906.1 635.3 907.7 634 909.3 632.7 910.8 631.5 912.4 630.2 913.9 628.9" fill="none" stroke="#fa8406" stroke-width="4.5" stroke-linecap="round" stroke-linejoin="round"/>
<path d="M814 657 812.6 658.7 811.5 660.6 810.7 662.5 810.2 664.4 810 666.4 810 668.4 810.3 670.4 810.8 672.3 811.6 674.3 812.5 676.1 813.7 677.9 815 679.5 816.4 681 818 682.4 819.7 683.6 821.6 684.6 823.5 685.4 825.5 685.9 827.6 686.3 829.7 686.3 831.8 686.1 834 685.5" fill="none" stroke="#fa8406" stroke-width="3.8" stroke-linecap="butt" stroke-linejoin="round"/>
<path d="M441.9 571 443.5 572 445.2 573.1 446.9 574.2 448.5 575.2 450.2 576.3 451.9 577.4 453.6 578.4 455.2 579.5 456.9 580.6 458.6 581.7 460.2 582.7 461.9 583.8 463.6 584.9 465.3 586 466.9 587.1 468.6 588.1 470.3 589.2 472 590.3 473.6 591.4 475.3 592.5 477 593.6 478.7 594.7 480.4 595.8 482 596.8 483.7 597.9 485.4 599 487.1 600.1 488.8 601.2 490.5 602.3 492.2 603.3 493.9 604.4 495.6 605.5 497.3 606.6 498.9 607.6 500.7 608.7 502.4 609.8 504.1 610.8 505.8 611.9 507.5 613 509.2 614 510.9 615.1 512.6 616.1 514.3 617.1 516 618.2 517.8 619.2 519.5 620.2 521.2 621.3 522.9 622.3 524.7 623.3 526.4 624.3 528.2 625.3 529.9 626.3 531.6 627.3 533.4 628.3 535.1 629.3 536.9 630.3 538.6 631.2 540.4 632.2 542.2 633.1 543.9 634.1 545.7 635 547.5 636 549.2 636.9 551 637.8 552.8 638.7 554.6 639.6 556.4 640.5 558.2 641.4 560 642.3 561.8 643.1 563.6 644 565.4 644.8 567.2 645.7 569 646.5 570.8 647.3 572.6 648.1 574.5 648.9 576.3 649.7 578.1 650.5 580 651.3 581.8 652 583.7 652.8 585.5 653.5 587.4 654.3 589.2 655 591.1 655.7 593 656.4 594.8 657.1 596.7 657.8 598.6 658.4 600.5 659.1 602.3 659.7 604.2 660.4 606.1 661 608 661.6 609.9 662.2 611.8 662.8 613.7 663.4 615.6 664 617.5 664.6 619.4 665.1 621.4 665.7 623.3 666.2 625.2 666.7 627.1 667.3 629 667.8 631 668.3 632.9 668.8 634.8 669.2 636.8 669.7 638.7 670.2 640.7 670.6 642.6 671 644.5 671.5 646.5 671.9 648.4 672.3 650.4 672.7 652.4 673.1 654.3 673.4 656.3 673.8 658.2 674.2 660.2 674.5 662.2 674.8 664.1 675.2 666.1 675.5 668.1 675.8 670 676.1 672 676.4 674 676.6 676 676.9 678 677.2 679.9 677.4 681.9 677.6 683.9 677.8 685.9 678.1 687.9 678.3 689.9 678.5 691.8 678.6 693.8 678.8 695.8 679 697.8 679.1 699.8 679.2 701.8 679.4 703.8 679.5 705.8 679.6 707.8 679.7 709.8 679.8 711.8 679.9 713.8 679.9 715.8 680 717.8 680 719.8 680.1 721.8 680.1 723.8 680.1 725.8 680.1 727.8 680.1 729.8 680.1 731.8 680.1 733.8 680 735.8 680 737.8 679.9 739.8 679.8 741.8 679.8 743.8 679.7 745.8 679.6 747.8 679.4 749.8 679.3 751.8 679.2 753.8 679.1 755.8 678.9 757.8 678.7 759.8 678.6 761.8 678.4 763.9 678.2 765.9 678 767.9 677.7 769.8 677.5 771.8 677.3 773.8 677 775.8 676.8 777.8 676.5 779.8 676.2 781.8 675.9 783.8 675.6 785.8 675.3 787.8 675 789.8 674.7 791.8 674.3 793.8 674 795.8 673.6 797.7 673.2 799.7 672.8 801.7 672.4 803.7 672 805.7 671.6 807.7 671.2" fill="none" stroke="#fa8406" stroke-width="2" stroke-linecap="round" stroke-linejoin="round"/>
<path d="M444.5 589.1 446.2 590 448 591 449.8 591.9 451.5 592.9 453.2 593.8 455 594.8 456.7 595.8 458.5 596.7 460.2 597.7 461.9 598.7 463.6 599.7 465.4 600.8 467.1 601.8 468.8 602.8 470.5 603.8 472.2 604.9 473.9 605.9 475.6 607 477.3 608 479.1 609.1 480.8 610.1 482.5 611.2 484.2 612.3 485.8 613.4 487.5 614.4 489.2 615.5 490.9 616.6 492.6 617.7 494.3 618.8 496 619.9 497.7 621 499.4 622.1 501.1 623.2 502.8 624.3 504.5 625.4 506.1 626.5 507.8 627.6 509.5 628.7 511.2 629.8 512.9 630.9 514.6 632 516.3 633.2 518 634.3 519.7 635.4 521.4 636.5 523.1 637.6 524.8 638.7 526.5 639.8 528.2 640.9 529.9 641.9 531.6 643 533.3 644.1 535.1 645.2 536.8 646.3 538.5 647.3 540.2 648.4 541.9 649.4 543.7 650.5 545.4 651.5 547.1 652.6 548.9 653.6 550.6 654.6 552.4 655.6 554.1 656.6 555.9 657.6 557.6 658.5 559.4 659.5 561.2 660.5 563 661.4 564.7 662.3 566.5 663.2 568.3 664.1 570.1 665 571.9 665.9 573.7 666.7 575.5 667.6 577.4 668.4 579.2 669.2 581 670 582.8 670.8 584.7 671.5 586.5 672.3 588.4 673 590.3 673.7 592.1 674.4 594 675.1 595.9 675.8 597.7 676.4 599.6 677.1 601.5 677.7 603.4 678.3 605.3 678.9 607.2 679.5 609.1 680.1 611 680.6 612.9 681.2 614.9 681.7 616.8 682.2 618.7 682.7 620.7 683.2 622.6 683.7 624.5 684.2 626.5 684.6 628.4 685 630.4 685.5 632.3 685.9 634.3 686.3 636.2 686.6 638.2 687 640.2 687.4 642.2 687.7 644.1 688.1 646.1 688.4 648.1 688.7 650.1 689 652.1 689.3 654 689.5 656 689.8 658 690 660 690.3 662 690.5 664 690.7 666 690.9 668 691.1 670 691.3 672 691.4 674 691.6 676.1 691.7 678.1 691.9 680.1 692 682.1 692.1 684.1 692.2 686.1 692.3 688.1 692.4 690.2 692.4 692.2 692.5 694.2 692.5 696.2 692.6 698.3 692.6 700.3 692.6 702.3 692.6 704.3 692.6 706.4 692.6 708.4 692.6 710.4 692.5 712.4 692.5 714.5 692.4 716.5 692.4 718.5 692.3 720.5 692.2 722.6 692.1 724.6 692 726.6 691.9 728.6 691.8 730.6 691.7 732.7 691.5 734.7 691.4 736.7 691.2 738.7 691.1 740.8 690.9 742.8 690.7 744.8 690.5 746.8 690.3 748.8 690.1 750.8 689.9 752.8 689.7 754.8 689.5 756.9 689.3 758.9 689 760.9 688.8 762.9 688.5 764.9 688.2 766.9 688 768.9 687.7 770.8 687.4 772.8 687.1 774.8 686.8 776.8 686.5 778.8 686.2 780.8 685.9 782.7 685.5 784.7 685.2 786.7 684.9 788.7 684.5 790.6 684.2 792.6 683.8 794.5 683.5 796.5 683.1 798.5 682.7 800.4 682.3 802.3 681.9 804.3 681.5 806.2 681.1 808.2 680.7 810.1 680.3 812 679.9" fill="none" stroke="#fa8406" stroke-width="2" stroke-linecap="round" stroke-linejoin="round"/>
<path d="M438.9 594.8 440.5 595.9 442.2 597 443.8 598.2 445.5 599.3 447.1 600.4 448.7 601.6 450.4 602.7 452 603.8 453.7 605 455.3 606.1 457 607.3 458.6 608.4 460.3 609.5 461.9 610.7 463.6 611.8 465.2 613 466.9 614.1 468.5 615.2 470.2 616.4 471.8 617.5 473.5 618.7 475.1 619.8 476.8 620.9 478.4 622.1 480.1 623.2 481.7 624.3 483.4 625.5 485 626.6 486.7 627.8 488.3 628.9 490 630 491.6 631.2 493.3 632.3 494.9 633.4 496.6 634.6 498.3 635.7 499.9 636.8 501.6 638 503.2 639.1 504.9 640.2 506.6 641.4 508.2 642.5 509.9 643.6 511.6 644.7 513.2 645.9 514.9 647 516.6 648.1 518.3 649.2 519.9 650.3 521.6 651.4 523.3 652.5 525 653.6 526.7 654.7 528.4 655.8 530.1 656.9 531.8 658 533.5 659 535.2 660.1 536.9 661.2 538.6 662.2 540.3 663.3 542.1 664.3 543.8 665.3 545.5 666.3 547.3 667.4 549 668.4 550.7 669.4 552.5 670.4 554.3 671.3 556 672.3 557.8 673.3 559.6 674.2 561.3 675.2 563.1 676.1 564.9 677.1 566.7 678 568.5 678.9 570.3 679.8 572.1 680.7 573.9 681.5 575.8 682.4 577.6 683.3 579.4 684.1 581.3 684.9 583.1 685.7 585 686.6 586.8 687.4 588.7 688.1 590.5 688.9 592.4 689.7 594.3 690.4 596.1 691.2 598 691.9 599.9 692.6 601.8 693.3 603.7 694 605.6 694.7 607.5 695.3 609.4 696 611.3 696.6 613.2 697.2 615.1 697.8 617.1 698.4 619 699 620.9 699.6 622.8 700.1 624.8 700.7 626.7 701.2 628.7 701.7 630.6 702.2 632.5 702.7 634.5 703.2 636.4 703.6 638.4 704.1 640.4 704.5 642.3 704.9 644.3 705.3 646.2 705.7 648.2 706 650.2 706.4 652.1 706.7 654.1 707 656.1 707.3 658.1 707.6 660.1 707.9 662 708.1 664 708.4 666 708.6 668 708.8 670 709 672 709.1 673.9 709.3 675.9 709.4 677.9 709.5 679.9 709.6 681.9 709.7 683.9 709.8 685.9 709.8 687.9 709.9 689.9 709.9 691.9 709.9 693.9 709.9 695.9 709.8 697.9 709.8 699.9 709.7 701.9 709.6 703.9 709.5 705.9 709.3 707.9 709.2 709.8 709 711.8 708.8 713.8 708.6 715.8 708.4 717.8 708.1 719.8 707.9 721.8 707.6 723.8 707.3 725.8 707 727.8 706.7 729.8 706.3 731.8 706 733.8 705.6 735.8 705.3 737.7 704.9 739.7 704.5 741.7 704.1 743.7 703.6 745.7 703.2 747.7 702.8 749.6 702.3 751.6 701.9 753.6 701.4 755.6 700.9 757.6 700.5 759.5 700 761.5 699.5 763.5 699 765.4 698.5 767.4 698 769.4 697.5 771.3 697 773.3 696.4 775.3 695.9 777.2 695.4 779.2 694.9 781.1 694.4 783.1 693.8 785 693.3 787 692.8 788.9 692.3 790.9 691.7 792.8 691.2 794.8 690.7 796.7 690.2 798.6 689.7 800.6 689.2 802.5 688.7 804.4 688.2 806.4 687.7 808.3 687.2 810.2 686.7 812.1 686.2 814 685.7 815.9 685.3" fill="none" stroke="#fa8406" stroke-width="2" stroke-linecap="round" stroke-linejoin="round"/>
<path d="M427.8 594.7 429.4 596 430.9 597.3 432.4 598.6 434 599.8 435.5 601.1 437.1 602.4 438.6 603.7 440.1 604.9 441.7 606.2 443.2 607.5 444.8 608.7 446.3 610 447.9 611.3 449.4 612.5 451 613.8 452.5 615 454.1 616.3 455.6 617.5 457.2 618.8 458.8 620 460.3 621.3 461.9 622.5 463.4 623.8 465 625 466.6 626.2 468.1 627.4 469.7 628.7 471.3 629.9 472.9 631.1 474.4 632.3 476 633.5 477.6 634.8 479.2 636 480.8 637.2 482.4 638.4 483.9 639.6 485.5 640.7 487.1 641.9 488.7 643.1 490.3 644.3 491.9 645.5 493.6 646.7 495.2 647.8 496.8 649 498.4 650.2 500 651.3 501.6 652.5 503.3 653.6 504.9 654.8 506.5 655.9 508.2 657 509.8 658.2 511.5 659.3 513.1 660.4 514.8 661.5 516.4 662.7 518.1 663.8 519.7 664.9 521.4 666 523.1 667.1 524.7 668.2 526.4 669.2 528.1 670.3 529.8 671.4 531.5 672.5 533.2 673.5 534.9 674.6 536.6 675.6 538.3 676.7 540 677.7 541.7 678.8 543.4 679.8 545.2 680.8 546.9 681.9 548.6 682.9 550.4 683.9 552.1 684.9 553.9 685.9 555.6 686.9 557.4 687.9 559.2 688.9 560.9 689.8 562.7 690.8 564.5 691.8 566.3 692.7 568.1 693.6 569.9 694.6 571.7 695.5 573.5 696.4 575.3 697.3 577.1 698.2 578.9 699.1 580.7 700 582.5 700.9 584.4 701.8 586.2 702.6 588 703.5 589.9 704.3 591.7 705.1 593.6 705.9 595.4 706.7 597.3 707.5 599.1 708.3 601 709.1 602.9 709.8 604.7 710.6 606.6 711.3 608.5 712 610.3 712.7 612.2 713.4 614.1 714.1 616 714.8 617.9 715.4 619.8 716 621.7 716.7 623.6 717.3 625.5 717.9 627.4 718.5 629.3 719 631.2 719.6 633.1 720.1 635 720.6 637 721.2 638.9 721.6 640.8 722.1 642.7 722.6 644.7 723 646.6 723.4 648.5 723.8 650.5 724.2 652.4 724.6 654.3 725 656.3 725.3 658.2 725.6 660.2 725.9 662.1 726.2 664.1 726.5 666 726.7 668 726.9 669.9 727.2 671.9 727.3 673.8 727.5 675.8 727.7 677.8 727.8 679.7 727.9 681.7 728 683.7 728 685.6 728.1 687.6 728.1 689.6 728.1 691.5 728.1 693.5 728.1 695.5 728 697.5 727.9 699.4 727.8 701.4 727.7 703.4 727.5 705.4 727.3 707.3 727.1 709.3 726.9 711.3 726.7 713.3 726.4 715.3 726.1 717.2 725.8 719.2 725.5 721.2 725.1 723.2 724.7 725.2 724.3 727.1 723.9 729.1 723.5 731.1 723 733.1 722.6 735 722.1 737 721.6 739 721.1 740.9 720.5 742.9 720 744.9 719.4 746.8 718.8 748.8 718.2 750.7 717.6 752.7 717 754.6 716.4 756.6 715.7 758.5 715 760.5 714.4 762.4 713.7 764.3 713 766.2 712.3 768.2 711.6 770.1 710.8 772 710.1 773.9 709.3 775.8 708.6 777.7 707.8 779.6 707.1 781.5 706.3 783.4 705.5 785.2 704.7 787.1 703.9 789 703.1 790.8 702.3 792.7 701.5 794.5 700.7 796.4 699.9 798.2 699.1 800 698.2 801.8 697.4 803.6 696.6 805.4 695.8 807.2 694.9 809 694.1 810.8 693.3 812.5 692.5 814.3 691.6 816.1 690.8 817.8 690 819.5 689.2 821.3 688.3 823 687.5" fill="none" stroke="#fa8406" stroke-width="2" stroke-linecap="round" stroke-linejoin="round"/>
<path d="M483.6 814.5 485.1 814.7 486.7 814.9 488.2 815.2 489.7 815.4 491.2 815.6 492.8 815.7 494.3 815.9 495.8 816.1 497.3 816.2 498.9 816.3 500.4 816.5 501.9 816.6 503.4 816.7 504.9 816.8 506.5 816.9 508 816.9 509.5 817 511 817.1 512.5 817.1 514.1 817.1 515.6 817.2 517.1 817.2 518.6 817.2 520.1 817.2 521.6 817.2 523.1 817.1 524.7 817.1 526.2 817.1 527.7 817 529.2 817 530.7 816.9 532.2 816.8 533.7 816.8 535.2 816.7 536.7 816.6 538.2 816.5 539.7 816.4 541.3 816.3 542.8 816.2 544.3 816.1 545.8 815.9 547.3 815.8 548.8 815.7 550.3 815.5 551.8 815.4 553.3 815.2 554.8 815 556.3 814.9 557.8 814.7 559.3 814.5 560.8 814.4 562.3 814.2 563.8 814 565.3 813.8 566.8 813.6 568.3 813.4 569.8 813.2 571.3 813 572.8 812.8 574.3 812.6 575.7 812.4 577.2 812.2 578.7 812 580.2 811.7 581.7 811.5 583.2 811.3 584.7 811.1 586.2 810.9 587.7 810.6 589.2 810.4 590.7 810.2 592.2 810 593.6 809.7 595.1 809.5 596.6 809.2 598.1 809 599.6 808.7 601.1 808.4 602.5 808.1 604 807.9 605.5 807.6 607 807.3 608.5 807 609.9 806.8 611.4 806.5 612.9 806.2 614.4 806 615.9 805.7 617.3 805.5 618.8 805.2 620.3 804.9 621.8 804.7 623.2 804.4 624.7 804.2 626.2 803.9 627.7 803.7 629.2 803.5 630.6 803.2 632.1 803 631.9 801 630.4 801.1 628.9 801.3 627.4 801.4 625.9 801.6 624.4 801.7 622.9 801.9 621.4 802 619.9 802.2 618.4 802.3 616.9 802.5 615.4 802.6 613.9 802.8 612.4 803 610.9 803.1 609.4 803.3 607.9 803.5 606.4 803.6 604.9 803.8 603.4 804 601.9 804.2 600.4 804.3 599 804.5 597.5 804.7 596 804.9 594.5 805.1 593 805.3 591.5 805.5 590 805.7 588.5 805.9 587 806.2 585.5 806.4 584 806.6 582.6 806.8 581.1 807 579.6 807.2 578.1 807.4 576.6 807.6 575.1 807.8 573.6 808.1 572.1 808.3 570.7 808.4 569.2 808.6 567.7 808.8 566.2 809 564.7 809.2 563.2 809.4 561.7 809.6 560.2 809.7 558.8 809.9 557.3 810.1 555.8 810.2 554.3 810.4 552.8 810.5 551.3 810.7 549.8 810.8 548.3 811 546.9 811.1 545.4 811.2 543.9 811.3 542.4 811.5 540.9 811.6 539.4 811.7 537.9 811.8 536.5 811.8 535 811.9 533.5 812 532 812.1 530.5 812.1 529 812.2 527.5 812.2 526 812.3 524.6 812.3 523.1 812.3 521.6 812.3 520.1 812.3 518.6 812.3 517.1 812.3 515.6 812.3 514.2 812.3 512.7 812.2 511.2 812.2 509.7 812.1 508.2 812.1 506.7 812 505.2 811.9 503.7 811.8 502.3 811.7 500.8 811.6 499.3 811.4 497.8 811.3 496.3 811.1 494.8 811 493.3 810.8 491.8 810.6 490.4 810.4 488.9 810.2 487.4 810 485.9 809.8 484.4 809.5Z" fill="#fa8406"/>
<path d="M312.6 420 310.8 420.3 309.2 421 307.5 422 306 423.2 304.6 424.6 303.2 426.2 302 428 300.9 429.9 300 431.9 299.1 433.9 298.5 436 298 438 297.6 440.1 297.4 442.1 297.4 444.1 297.4 446.1 297.6 448 297.9 450 298.3 451.9 298.7 453.8 299.2 455.7 299.7 457.7 300.3 459.6 300.9 461.5 301.5 463.4 302.1 465.3 302.7 467.2 303.4 469.1 304.1 471 304.8 472.9 305.5 474.8 306.2 476.7 307 478.5 307.8 480.4 308.6 482.3 309.4 484.1 310.2 485.9 311.1 487.8 312 489.6 312.9 491.4 313.8 493.2 314.7 495 315.7 496.7 316.7 498.5 317.7 500.2 318.7 502 319.8 503.7 320.9 505.4 322 507 323.1 508.7 324.3 510.3 325.5 511.9 326.7 513.5 327.9 515.1 329.2 516.6 330.4 518.2 331.8 519.7 333.1 521.1 334.5 522.6 335.9 524 337.3 525.4 338.7 526.8 340.2 528.1 341.7 529.5 343.2 530.8 344.7 532.1 346.3 533.4 347.8 534.6 349.4 535.9 351 537.1 352.6 538.3 354.2 539.5 355.8 540.7 357.4 541.9 359.1 543.1 360.7 544.2 362.3 545.4 364 546.6 365.6 547.7 367.3 548.9 368.9 550 370.5 551.2 372.2 552.3 373.8 553.5 375.4 554.6 377 555.8 378.6 557 380.2 558.1 381.7 559.3 383.3 560.5 384.8 561.7 386.3 562.9 387.9 564.1 389.4 565.3 390.9 566.5 392.5 567.8 394 569 395.5 570.2 397.1 571.5 398.6 572.7 400.2 573.9 401.8 575.2 403.4 576.4 405 577.7 406.7 578.9 408.4 580.1 410.1 581.4 411.8 582.6 413.6 583.8 415.4 585 417.3 586.3 419.1 587.5 421.1 588.6 423 589.7 424.9 590.6 426.8 591.4 428.7 592.1 430.6 592.5 432.5 592.7 434.3 592.6 436.1 592.2 437.8 591.6 439.4 590.6 440.8 589.5 442.1 588.2 443.2 586.6 444 585 444.6 583.2 444.9 581.3 444.9 579.4 444.7 577.4 444.3 575.4 443.7 573.4 443.1 571.4 442.3 569.4 441.6 567.4 440.8 565.4 439.9 563.5 439.1 561.6 438.3 559.8 437.4 558 436.5 556.2 435.6 554.4 434.6 552.7 433.7 551 432.7 549.3 431.7 547.6 430.6 545.9 429.5 544.3 428.4 542.7 427.3 541.1 426.1 539.5 424.9 537.9 423.7 536.4 422.5 534.8 421.3 533.2 420 531.7 418.8 530.1 417.5 528.5 416.3 527 415.1 525.4 413.9 523.8 412.7 522.2 411.5 520.6 410.3 519 409.1 517.3 407.9 515.7 406.8 514.1 405.6 512.4 404.4 510.8 403.3 509.2 402.1 507.5 401 505.9 399.8 504.2 398.7 502.5 397.6 500.9 396.4 499.2 395.3 497.6 394.2 495.9 393 494.2 391.9 492.6 390.8 490.9 389.6 489.3 388.5 487.6 387.3 486 386.2 484.3 385 482.7 383.9 481.1 382.7 479.4 381.5 477.8 380.4 476.2 379.2 474.6 378 473 376.8 471.4 375.6 469.8 374.4 468.2 373.1 466.6 371.9 465 370.7 463.5 369.4 461.9 368.1 460.4 366.8 458.9 365.5 457.3 364.2 455.8 362.9 454.4 361.6 452.9 360.2 451.4 358.9 450 357.5 448.5 356.1 447.1 354.6 445.7 353.2 444.3 351.8 442.9 350.3 441.6 348.8 440.3 347.3 438.9 345.7 437.6 344.2 436.4 342.6 435.1 341 433.9 339.4 432.7 337.7 431.5 336.1 430.4 334.4 429.2 332.7 428.1 330.9 427.1 329.2 426.1 327.4 425.1 325.6 424.1 323.8 423.2 321.9 422.3 320 421.5 318.1 420.8 316.3 420.3 314.4 420 312.6 420Z" fill="#7b5670" stroke="#8c4a48" stroke-width="3"/>
<path d="M346.9 648.3 346.7 645.9 346.7 643.6 346.7 641.3 346.9 639.1 347.2 637 347.6 634.9 348.1 632.8 348.7 630.9 349.4 628.9 350.2 627.1 351.1 625.3 352.1 623.5 353.1 621.8 354.3 620.2 355.5 618.6 356.8 617.1 358.2 615.7 359.6 614.3 361.1 613 362.7 611.8 364.3 610.6 366 609.5 367.7 608.5 369.4 607.5 371.2 606.6 373.1 605.8 374.9 605.1 376.8 604.4 378.7 603.8 380.7 603.3 382.6 602.8 384.6 602.4 386.6 602.1 388.6 601.9 390.5 601.7 392.5 601.7 394.5 601.7 396.5 601.8 398.4 602 400.4 602.2 402.3 602.5 404.2 603 406 603.5 407.9 604 409.7 604.7 411.6 605.4 413.4 606.1 415.1 607 416.9 607.8 418.6 608.8 420.4 609.8 422.1 610.8 423.8 611.9 425.4 613.1 427.1 614.2 428.7 615.5 430.3 616.7 431.9 618 433.5 619.3 435.1 620.7 436.6 622 438.1 623.4 439.6 624.8 441.1 626.2 442.6 627.6 444.1 629.1 445.5 630.5 447 632 448.4 633.4 449.8 634.9 451.2 636.3 452.6 637.8 454 639.3 455.3 640.8 456.7 642.2 458.1 643.7 459.4 645.2 460.8 646.7 462.1 648.1 463.4 649.6 464.8 651.1 466.1 652.5 467.5 654 468.8 655.5 470.1 656.9 471.5 658.4 472.8 659.8 474.2 661.3 475.6 662.7 476.9 664.1 478.3 665.5 479.7 666.9 481.1 668.3 482.6 669.7 484 671.1 485.4 672.5 486.9 673.8 488.4 675.2 489.9 676.5 491.4 677.8 492.9 679.1 494.4 680.4 496 681.7 497.5 683 499.1 684.2 500.7 685.5 502.2 686.8 503.8 688 505.4 689.2 507.1 690.4 508.7 691.7 510.3 692.9 511.9 694.1 513.6 695.3 515.2 696.5 516.8 697.6 518.5 698.8 520.1 700 502.3 731.8 501.1 730.2 499.9 728.5 498.6 726.9 497.4 725.3 496.1 723.8 494.8 722.2 493.5 720.7 492.2 719.1 490.9 717.6 489.5 716.2 488.2 714.7 486.8 713.2 485.4 711.8 484 710.3 482.6 708.9 481.2 707.5 479.8 706.1 478.4 704.7 477 703.3 475.5 701.9 474.1 700.6 472.6 699.2 471.2 697.9 469.7 696.5 468.2 695.2 466.8 693.8 465.3 692.5 463.8 691.1 462.3 689.8 460.9 688.5 459.4 687.1 457.9 685.8 456.4 684.5 454.9 683.1 453.4 681.8 452 680.5 450.5 679.1 449 677.8 447.5 676.4 446 675 444.6 673.7 443.1 672.3 441.6 670.9 440.2 669.5 438.7 668.1 437.3 666.7 435.9 665.3 434.4 663.8 433 662.4 431.6 660.9 430.2 659.4 428.8 657.9 427.4 656.4 426 655 424.6 653.5 423.2 652 421.7 650.6 420.3 649.1 418.8 647.7 417.3 646.4 415.8 645 414.3 643.8 412.7 642.5 411.1 641.3 409.5 640.2 407.8 639.1 406.1 638.1 404.4 637.1 402.5 636.2 400.7 635.5 398.8 634.7 396.8 634.1 394.8 633.6 392.8 633.2 390.8 633 388.8 632.8 386.9 632.9 385 633.1 383.2 633.5 381.4 634 379.8 634.8 378.2 635.8 376.8 637 375.6 638.4 374.5 640.1 373.6 642.1 372.9 644.3 372.4 646.8Z" fill="#7d5773"/>
<path d="M43.6 571.8 43.7 569.7 43.8 567.6 44.1 565.5 44.5 563.5 45.1 561.7 45.9 559.9 47 558.3 48.3 556.9 49.8 555.8 51.6 554.8 53.5 554.1 55.5 553.5 57.5 553.1 59.6 552.8 61.7 552.8 63.7 552.8 65.7 553 67.7 553.2 69.6 553.6 71.6 554.1 73.5 554.6 75.4 555.1 77.3 555.7 79.2 556.4 81.1 557 83 557.7 84.8 558.4 86.7 559.1 88.5 559.9 90.3 560.7 92.2 561.5 94 562.3 95.8 563.2 97.6 564.1 99.3 565 101.1 565.9 102.8 566.9 104.6 567.9 106.3 568.9 108 570 109.7 571 111.4 572.1 113 573.2 114.7 574.4 116.3 575.5 117.9 576.7 119.5 577.9 121.1 579.2 122.6 580.5 124.1 581.8 125.6 583.1 127 584.5 128.4 585.9 129.8 587.4 131.1 588.8 132.4 590.4 133.6 591.9 134.8 593.5 135.9 595.2 136.9 596.9 138 598.6 138.9 600.3 139.8 602.1 140.7 604 141.5 605.8 142.3 607.7 143 609.5 143.7 611.4 144.5 613.3 145.3 615.1 146.3 616.8 147.4 618.4 148.6 620 149.9 621.5 151.3 622.9 152.8 624.2 154.3 625.5 155.9 626.8 157.5 628 159.1 629.2 160.8 630.3 162.5 631.4 164.2 632.5 165.9 633.5 167.6 634.5 169.4 635.5 171.1 636.4 172.9 637.3 174.7 638.2 176.5 639 178.3 639.9 180.1 640.7 181.9 641.5 183.8 642.2 185.6 643 187.5 643.7 189.4 644.4 191.2 645.1 193.1 645.8 195 646.4 196.9 647.1 198.8 647.7 200.7 648.3 202.6 649 204.5 649.6 206.4 650.2 208.3 650.8 210.2 651.4 212.1 652 214 652.6 215.9 653.1 217.8 653.7 219.7 654.3 221.6 654.8 223.5 655.3 225.4 655.9 227.3 656.4 229.2 656.9 231.1 657.4 233 657.9 235 658.4 236.9 658.9 238.8 659.4 240.7 659.9 242.7 660.3 244.6 660.8 246.6 661.2 248.5 661.7 250.5 662.1 252.4 662.5 254.4 662.9 256.4 663.3 258.3 663.7 260.3 664.1 262.3 664.4 264.3 664.8 266.3 665.1 268.3 665.4 270.3 665.8 272.3 666.1 274.3 666.4 276.3 666.7 278.3 666.9 280.3 667.2 282.3 667.5 284.2 667.7 286.2 668 288.2 668.2 290.1 668.4 292 668.6 293.9 668.8 295.8 669 297.7 669.2 299.6 669.3 301.4 669.5 303.3 669.7 305.1 669.9 307 670.1 308.9 670.3 310.8 670.6 312.8 670.9 314.7 671.2 316.7 671.6 318.8 672 320.9 672.5 323 673 325.2 673.6 327.4 674.2 329.7 674.9 332 675.6 334.3 676.2 336.6 676.7 338.7 677 340.6 677.1 342.4 676.8 343.9 676.2 345.2 675.1 346.1 673.6 346.8 671.8 347.1 669.8 347.2 667.8 347.2 665.7 347 663.6 346.8 661.5 346.6 659.5 346.4 657.4 346.5 655.4 346.7 653.5 347.3 651.6 348.1 649.9 349.3 648.4 350.8 647.2 352.6 646.4 354.6 645.9 356.8 645.7 358.9 645.8 361 646 363 646.4 364.9 647 366.8 647.6 368.6 648.3 370.4 649.1 372.2 649.9 374 650.7 375.8 651.5 377.6 652.2 379.5 652.9 381.4 653.6 383.4 654.2 385.3 654.9 387.2 655.5 389.2 656.1 391.1 656.8 393 657.5 395 658.1 396.8 658.9 398.7 659.6 400.5 660.4 402.3 661.3 404.1 662.2 405.8 663.2 407.4 664.3 409 665.4 410.6 666.6 412.1 667.8 413.6 669.1 415.1 670.4 416.5 671.8 417.9 673.2 419.3 674.6 420.6 676.1 421.9 677.6 423.2 679.2 424.4 680.8 425.7 682.4 426.9 684 428.1 685.6 429.3 687.3 430.4 688.9 431.6 690.6 432.7 692.3 433.9 694 435 695.7 436.1 697.3 437.2 699 438.4 700.7 439.5 702.3 440.6 704 441.7 705.6 442.8 707.2 444 708.8 445.1 710.4 446.3 711.9 447.4 713.5 448.6 715 449.7 716.6 450.9 718.1 452.1 719.6 453.3 721.2 454.5 722.7 455.7 724.2 456.9 725.8 458.2 727.3 459.4 728.9 460.7 730.4 462 732 463.3 733.6 464.6 735.2 465.9 736.8 467.3 738.4 468.7 740 470 741.7 471.5 743.4 472.9 745 474.4 746.6 475.8 748.2 477.4 749.5 479 750.8 480.6 751.7 482.3 752.5 484 752.9 485.8 752.9 487.7 752.6 489.5 751.9 491.4 751 493.2 749.8 494.8 748.3 496.3 746.7 497.6 745 498.7 743.2 499.5 741.3 500.1 739.4 500.5 737.4 500.9 735.5 501.3 733.5 501.7 731.6 502.3 729.7 502.9 727.8 503.6 725.9 504.3 724.1 505.2 722.3 506.1 720.5 507.1 718.8 508.1 717.1 509.3 715.4 510.5 713.8 511.7 712.2 513 710.7 514.3 709.1 515.7 707.7 517.1 706.3 518.6 704.9 520.1 703.5 521.6 702.3 523.2 701 524.7 699.8 526.3 698.7 528 697.5 529.6 696.4 531.3 695.4 533 694.4 534.7 693.3 536.4 692.4 538.1 691.4 539.8 690.4 541.6 689.5 543.4 688.6 545.1 687.6 546.9 686.7 548.7 685.8 550.5 684.9 552.3 683.9 554.1 683 555.9 682.1 557.6 681.1 559.4 680.1 561.2 679.1 563 678.1 564.7 677.1 566.4 676 568.1 674.8 569.6 673.6 571 672.3 572.3 670.8 573.4 669.2 574.3 667.5 575.1 665.6 575.6 663.6 576 661.6 576.1 659.5 576.1 657.4 575.9 655.4 575.6 653.4 575.1 651.4 574.6 649.5 573.9 647.6 573.2 645.8 572.4 643.9 571.6 642.1 570.9 640.3 570.2 638.4 569.5 636.6 568.9 634.7 568.3 632.8 567.9 630.8 567.4 628.9 567.1 626.9 566.8 624.9 566.5 622.9 566.3 620.9 566.1 618.9 566 616.9 565.9 614.9 565.9 612.8 565.9 610.8 566 608.8 566.2 606.8 566.4 604.8 566.6 602.8 567 600.9 567.4 599 567.8 597.1 568.4 595.2 569 593.4 569.7 591.6 570.5 589.9 571.3 588.1 572.2 586.3 573.1 584.6 574.1 582.8 575.1 581 576.1 579.2 577.2 577.3 578.3 575.5 579.5 573.6 580.6 571.7 581.9 569.8 583.1 567.9 584.4 566.1 585.7 564.4 587.1 562.7 588.5 561.2 590 559.9 591.5 558.7 593.1 557.7 594.7 556.9 596.4 556.3 598.2 556 600 555.9 601.9 556.1 603.8 556.6 605.7 557.2 607.6 558 609.4 559 611.3 560.1 613.1 561.4 614.8 562.7 616.4 564.1 617.9 565.6 619.3 567.1 620.6 568.7 621.9 570.3 623 571.9 624.1 573.6 625.2 575.3 626.2 576.9 627.2 578.6 628.2 580.4 629.1 582.1 630.1 583.8 631.1 585.5 632.2 587.2 633.2 588.9 634.2 590.6 635.2 592.3 636.2 594.1 637.2 595.8 638.2 597.6 639.1 599.3 640 601.1 640.8 602.9 641.6 604.7 642.3 606.6 643 608.5 643.6 610.4 644.1 612.3 644.6 614.2 645.1 616.2 645.5 618.1 645.8 620.1 646.1 622.1 646.4 624.1 646.6 626.1 646.8 628.1 647 630.2 647.1 632.2 647.2 634.2 647.3 636.2 647.4 638.2 647.4 640.2 647.5 642.2 647.5 644.2 647.5 646.2 647.4 648.2 647.4 650.1 647.3 652.1 647.2 654.1 647.1 656.1 647 658.1 646.8 660 646.7 662 646.5 664 646.3 666 646 667.9 645.8 669.9 645.5 671.9 645.2 673.9 644.9 675.8 644.6 677.8 644.3 679.8 643.9 681.7 643.5 683.7 643.1 685.7 642.7 687.6 642.3 689.6 641.8 691.5 641.3 693.5 640.8 695.4 640.3 697.3 639.7 699.2 639.2 701.2 638.6 703.1 638 705 637.3 706.9 636.7 708.8 636 710.7 635.3 712.5 634.6 714.4 633.8 716.3 633.1 718.1 632.3 720 631.5 721.8 630.7 723.6 629.8 725.4 629 727.2 628.1 729 627.1 730.8 626.2 732.5 625.2 734.3 624.3 736 623.3 737.7 622.2 739.5 621.2 741.2 620.1 742.8 619 744.5 617.9 746.2 616.7 747.8 615.6 749.4 614.4 751 613.2 752.6 611.9 754.2 610.7 755.7 609.4 757.3 608.1 758.8 606.8 760.3 605.4 761.8 604 763.2 602.6 764.7 601.2 766.1 599.8 767.5 598.3 768.9 596.9 770.3 595.4 771.6 593.9 772.9 592.3 774.2 590.8 775.5 589.2 776.7 587.6 778 586 779.2 584.4 780.3 582.8 781.5 581.1 782.6 579.5 783.7 577.8 784.8 576.1 785.9 574.4 786.9 572.7 787.9 570.9 788.9 569.2 789.8 567.4 790.7 565.6 791.6 563.8 792.5 562 793.3 560.2 794.1 558.4 794.9 556.5 795.7 554.7 796.4 552.8 797.1 550.9 797.7 549.1 798.4 547.2 799 545.3 799.6 543.4 800.1 541.5 800.7 539.5 801.2 537.6 801.7 535.7 802.2 533.7 802.7 531.8 803.1 529.8 803.5 527.9 803.9 525.9 804.3 523.9 804.7 522 805.1 520 805.5 518 805.8 516.1 806.1 514.1 806.5 512.1 806.8 510.1 807.1 508.1 807.4 506.1 807.7 504.1 807.9 502.2 808.2 500.2 808.5 498.2 808.8 496.2 809 494.2 809.3 492.3 809.5 490.3 809.7 488.3 809.9 486.3 810.1 484.4 810.2 482.4 810.3 480.4 810.3 478.5 810.3 476.5 810.3 474.6 810.2 472.6 810 470.7 809.9 468.7 809.7 466.8 809.4 464.8 809.2 462.9 808.9 460.9 808.6 458.9 808.2 457 807.9 455 807.5 453 807.1 451 806.8 449 806.4 447 806 445 805.6 443 805.2 440.9 804.9 438.9 804.5 436.8 804.1 434.8 803.7 432.7 803.3 430.7 802.9 428.7 802.4 426.7 801.9 424.8 801.4 422.9 800.7 421 800 419.2 799.3 417.5 798.4 415.8 797.4 414.2 796.4 412.7 795.2 411.2 793.9 409.8 792.6 408.2 791.4 406.5 790.5 404.7 789.7 402.8 789 401 788.3 399.1 787.7 397.2 787.1 395.3 786.5 393.3 786 391.4 785.4 389.5 784.9 387.6 784.4 385.6 783.9 383.7 783.5 381.8 783 379.8 782.6 377.9 782.1 375.9 781.7 374 781.3 372 780.8 370.1 780.4 368.1 779.9 366.2 779.5 364.3 779 362.3 778.6 360.4 778.1 358.4 777.6 356.5 777.1 354.6 776.7 352.6 776.2 350.7 775.7 348.8 775.2 346.8 774.7 344.9 774.2 343 773.7 341 773.2 339.1 772.7 337.2 772.2 335.2 771.7 333.3 771.2 331.4 770.7 329.4 770.2 327.5 769.6 325.6 769.1 323.7 768.6 321.7 768.1 319.8 767.5 317.9 767 316 766.5 314 766 312.1 765.4 310.2 764.9 308.3 764.4 306.4 763.8 304.4 763.3 302.5 762.8 300.6 762.2 298.7 761.7 296.7 761.2 294.8 760.6 292.9 760.1 291 759.6 289.1 759.1 287.1 758.5 285.2 758 283.3 757.5 281.4 756.9 279.5 756.4 277.5 755.9 275.6 755.4 273.7 754.9 271.8 754.4 269.8 753.8 267.9 753.3 266 752.8 264.1 752.3 262.2 751.8 260.2 751.3 258.3 750.7 256.4 750.2 254.5 749.7 252.6 749.2 250.6 748.7 248.7 748.1 246.8 747.6 244.9 747.1 243 746.5 241.1 746 239.1 745.5 237.2 744.9 235.3 744.4 233.4 743.8 231.5 743.2 229.6 742.7 227.7 742.1 225.8 741.5 223.9 740.9 222 740.4 220.1 739.8 218.2 739.2 216.3 738.5 214.4 737.9 212.5 737.3 210.6 736.7 208.7 736 206.8 735.4 204.9 734.7 203 734 201.1 733.3 199.3 732.7 197.4 732 195.5 731.3 193.6 730.5 191.8 729.8 189.9 729.1 188 728.3 186.2 727.6 184.3 726.8 182.5 726.1 180.6 725.3 178.8 724.5 177 723.7 175.1 722.9 173.3 722 171.5 721.2 169.7 720.4 167.9 719.5 166.1 718.6 164.3 717.8 162.5 716.9 160.7 716 158.9 715.1 157.1 714.2 155.4 713.2 153.6 712.3 151.9 711.3 150.1 710.4 148.4 709.4 146.6 708.4 144.9 707.4 143.2 706.4 141.5 705.4 139.8 704.3 138.1 703.3 136.4 702.2 134.7 701.2 133.1 700.1 131.4 699 129.7 697.9 128.1 696.8 126.5 695.6 124.9 694.5 123.2 693.3 121.6 692.2 120 691 118.5 689.8 116.9 688.6 115.3 687.3 113.8 686.1 112.2 684.8 110.7 683.6 109.2 682.3 107.7 681 106.2 679.7 104.7 678.4 103.2 677 101.7 675.7 100.3 674.3 98.8 673 97.4 671.6 96 670.2 94.6 668.8 93.2 667.3 91.8 665.9 90.4 664.4 89.1 663 87.7 661.5 86.4 660 85.1 658.5 83.7 657 82.5 655.5 81.2 654 79.9 652.4 78.6 650.9 77.4 649.3 76.1 647.7 74.9 646.1 73.7 644.5 72.5 642.9 71.3 641.3 70.2 639.7 69 638 67.9 636.4 66.8 634.7 65.7 633 64.6 631.4 63.5 629.7 62.4 628 61.4 626.2 60.4 624.5 59.4 622.8 58.4 621 57.5 619.3 56.6 617.5 55.7 615.8 54.8 614 53.9 612.2 53.1 610.4 52.3 608.6 51.5 606.8 50.8 604.9 50 603.1 49.3 601.2 48.7 599.4 48 597.5 47.4 595.6 46.8 593.8 46.3 591.9 45.8 589.9 45.4 588 45 586.1 44.6 584.1 44.3 582.1 44.1 580.1 43.9 578.1 43.7 576 43.6 573.9 43.6 571.8Z" fill="#c8c8c8"/>
<path d="M368 285V628M362.5 621.5L368 628L373.5 621.5" fill="none" stroke="#c7a6f6" stroke-width="1.9" stroke-linecap="round" stroke-linejoin="round"/>
<path d="M546.5 173V591M541.0 584.5L546.5 591L552.0 584.5" fill="none" stroke="#c7a6f6" stroke-width="1.9" stroke-linecap="round" stroke-linejoin="round"/>
<defs><linearGradient id="tg" gradientUnits="userSpaceOnUse" x1="240" x2="660" y1="0" y2="0"><stop offset="0" stop-color="#d0a9f6"/><stop offset="1" stop-color="#bc9ff3"/></linearGradient></defs>
<text transform="translate(238.24 267) scale(0.880 1)" font-family="Liberation Sans" font-weight="bold" font-style="italic" font-size="62" fill="#ceabfa" stroke="#ceabfa" stroke-width="1.6" stroke-linejoin="round" vector-effect="non-scaling-stroke">C</text>
<text transform="translate(278.70 267) scale(0.758 1)" font-family="Liberation Sans" font-weight="bold" font-style="italic" font-size="62" fill="#caa8fa" stroke="#caa8fa" stroke-width="1.6" stroke-linejoin="round" vector-effect="non-scaling-stroke">L</text>
<text transform="translate(309.80 267) scale(0.685 1)" font-family="Liberation Sans" font-weight="bold" font-style="italic" font-size="62" fill="#c8a6fa" stroke="#c8a6fa" stroke-width="1.6" stroke-linejoin="round" vector-effect="non-scaling-stroke">I</text>
<text transform="translate(328.51 267) scale(0.829 1)" font-family="Liberation Sans" font-weight="bold" font-style="italic" font-size="62" fill="#c4a3fa" stroke="#c4a3fa" stroke-width="1.6" stroke-linejoin="round" vector-effect="non-scaling-stroke">T</text>
<text transform="translate(360.73 267) scale(0.985 1)" font-family="Liberation Sans" font-weight="bold" font-style="italic" font-size="62" fill="#c09ffa" stroke="#c09ffa" stroke-width="1.6" stroke-linejoin="round" vector-effect="non-scaling-stroke">O</text>
<text transform="translate(410.50 267) scale(0.772 1)" font-family="Liberation Sans" font-weight="bold" font-style="italic" font-size="62" fill="#bc9bfa" stroke="#bc9bfa" stroke-width="1.6" stroke-linejoin="round" vector-effect="non-scaling-stroke">R</text>
<text transform="translate(449.80 267) scale(0.875 1)" font-family="Liberation Sans" font-weight="bold" font-style="italic" font-size="62" fill="#b898fa" stroke="#b898fa" stroke-width="1.6" stroke-linejoin="round" vector-effect="non-scaling-stroke">I</text>
<text transform="translate(466.74 267) scale(0.740 1)" font-family="Liberation Sans" font-weight="bold" font-style="italic" font-size="62" fill="#b696fa" stroke="#b696fa" stroke-width="1.6" stroke-linejoin="round" vector-effect="non-scaling-stroke">S</text>
<path d="M486.2 128.8H500.3L498.6 135.6H484.5Z" fill="#caa8fa"/>
<text transform="translate(435.20 153) scale(0.902 1)" font-family="Liberation Sans" font-weight="bold" font-style="italic" font-size="62" fill="#cdabfa" stroke="#cdabfa" stroke-width="1.6" stroke-linejoin="round" vector-effect="non-scaling-stroke">G</text>
<text transform="translate(498.37 153) scale(0.774 1)" font-family="Liberation Sans" font-weight="bold" font-style="italic" font-size="62" fill="#c6a4fa" stroke="#c6a4fa" stroke-width="1.6" stroke-linejoin="round" vector-effect="non-scaling-stroke">S</text>
<text transform="translate(532.50 153) scale(0.860 1)" font-family="Liberation Sans" font-weight="bold" font-style="italic" font-size="62" fill="#c1a0fa" stroke="#c1a0fa" stroke-width="1.6" stroke-linejoin="round" vector-effect="non-scaling-stroke">P</text>
<text transform="translate(569.65 153) scale(0.974 1)" font-family="Liberation Sans" font-weight="bold" font-style="italic" font-size="62" fill="#bc9bfa" stroke="#bc9bfa" stroke-width="1.6" stroke-linejoin="round" vector-effect="non-scaling-stroke">O</text>
<text transform="translate(617.73 153) scale(0.824 1)" font-family="Liberation Sans" font-weight="bold" font-style="italic" font-size="62" fill="#b696fa" stroke="#b696fa" stroke-width="1.6" stroke-linejoin="round" vector-effect="non-scaling-stroke">T</text>
</svg>
</body></html>
